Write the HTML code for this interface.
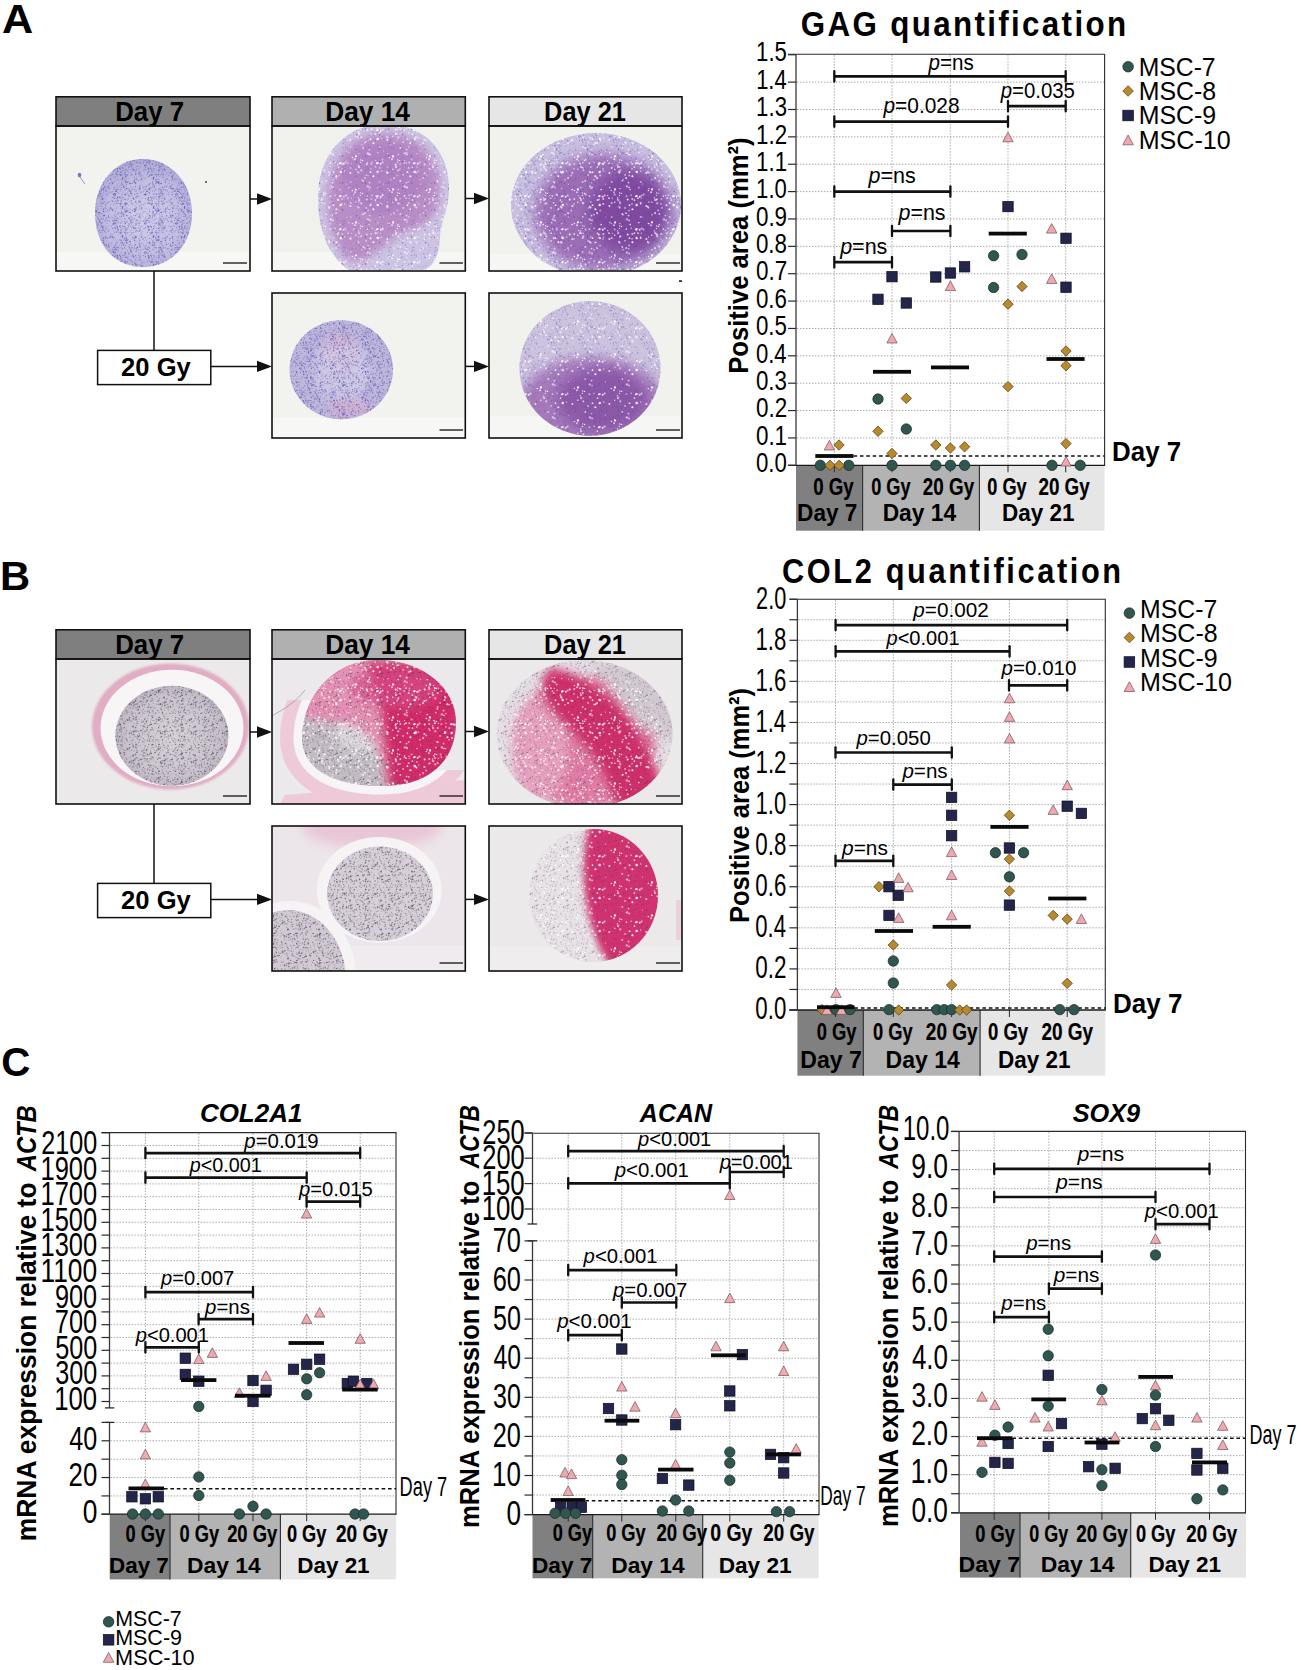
<!DOCTYPE html>
<html><head><meta charset="utf-8"><title>Figure</title>
<style>html,body{margin:0;padding:0;background:#fff;} body{width:1301px;height:1670px;overflow:hidden;font-family:"Liberation Sans",sans-serif;} svg{display:block;}</style>
</head><body>
<svg width="1301" height="1670" viewBox="0 0 1301 1670" font-family="'Liberation Sans', sans-serif">
<rect width="1301" height="1670" fill="#fff"/>
<defs><pattern id="pblue" width="31" height="29" patternUnits="userSpaceOnUse"><g fill="#4a45a0"><circle cx="4.2" cy="24.6" r="0.71" fill-opacity="0.34"/><circle cx="15.4" cy="13.0" r="0.66" fill-opacity="0.63"/><circle cx="2.9" cy="0.8" r="0.73" fill-opacity="0.44"/><circle cx="23.6" cy="0.1" r="0.58" fill-opacity="0.60"/><circle cx="23.6" cy="29.1" r="0.58" fill-opacity="0.60"/><circle cx="7.1" cy="27.4" r="0.76" fill-opacity="0.22"/><circle cx="0.8" cy="15.7" r="0.78" fill-opacity="0.41"/><circle cx="6.7" cy="12.2" r="0.41" fill-opacity="0.32"/><circle cx="13.6" cy="14.4" r="0.49" fill-opacity="0.33"/><circle cx="6.8" cy="13.3" r="0.52" fill-opacity="0.21"/><circle cx="26.0" cy="16.1" r="0.66" fill-opacity="0.30"/><circle cx="-0.2" cy="24.9" r="0.45" fill-opacity="0.38"/><circle cx="30.8" cy="24.9" r="0.45" fill-opacity="0.38"/><circle cx="22.4" cy="20.6" r="0.77" fill-opacity="0.43"/><circle cx="25.7" cy="19.4" r="0.52" fill-opacity="0.52"/><circle cx="27.4" cy="24.5" r="0.60" fill-opacity="0.52"/><circle cx="1.1" cy="7.0" r="0.72" fill-opacity="0.43"/><circle cx="5.4" cy="15.9" r="0.68" fill-opacity="0.57"/><circle cx="11.6" cy="12.7" r="0.60" fill-opacity="0.63"/><circle cx="16.1" cy="11.4" r="0.60" fill-opacity="0.22"/><circle cx="1.3" cy="20.4" r="0.79" fill-opacity="0.53"/><circle cx="12.2" cy="4.9" r="0.60" fill-opacity="0.74"/><circle cx="23.9" cy="15.6" r="0.74" fill-opacity="0.33"/><circle cx="15.9" cy="27.6" r="0.63" fill-opacity="0.45"/><circle cx="8.3" cy="15.9" r="0.78" fill-opacity="0.20"/><circle cx="24.3" cy="23.8" r="0.75" fill-opacity="0.61"/><circle cx="25.1" cy="15.0" r="0.62" fill-opacity="0.43"/><circle cx="1.7" cy="25.2" r="0.63" fill-opacity="0.31"/><circle cx="15.6" cy="14.1" r="0.54" fill-opacity="0.39"/><circle cx="16.7" cy="18.1" r="0.64" fill-opacity="0.45"/><circle cx="0.9" cy="6.7" r="0.47" fill-opacity="0.52"/><circle cx="26.7" cy="23.2" r="0.72" fill-opacity="0.65"/><circle cx="7.9" cy="24.4" r="0.67" fill-opacity="0.25"/><circle cx="0.5" cy="0.4" r="0.70" fill-opacity="0.34"/><circle cx="0.5" cy="29.4" r="0.70" fill-opacity="0.34"/><circle cx="31.5" cy="0.4" r="0.70" fill-opacity="0.34"/><circle cx="31.5" cy="29.4" r="0.70" fill-opacity="0.34"/><circle cx="3.4" cy="18.1" r="0.54" fill-opacity="0.24"/><circle cx="4.9" cy="15.3" r="0.47" fill-opacity="0.35"/><circle cx="22.1" cy="13.2" r="0.53" fill-opacity="0.46"/><circle cx="0.7" cy="11.2" r="0.57" fill-opacity="0.30"/><circle cx="3.4" cy="26.1" r="0.60" fill-opacity="0.32"/><circle cx="18.8" cy="23.7" r="0.41" fill-opacity="0.21"/><circle cx="4.5" cy="20.8" r="0.46" fill-opacity="0.59"/><circle cx="21.0" cy="15.8" r="0.49" fill-opacity="0.74"/><circle cx="24.7" cy="15.0" r="0.49" fill-opacity="0.56"/><circle cx="12.2" cy="16.7" r="0.53" fill-opacity="0.55"/><circle cx="1.8" cy="8.7" r="0.79" fill-opacity="0.68"/><circle cx="9.5" cy="24.9" r="0.52" fill-opacity="0.72"/><circle cx="23.1" cy="12.1" r="0.50" fill-opacity="0.20"/><circle cx="27.2" cy="1.1" r="0.73" fill-opacity="0.73"/><circle cx="17.7" cy="5.0" r="0.75" fill-opacity="0.74"/><circle cx="21.8" cy="14.8" r="0.55" fill-opacity="0.39"/><circle cx="6.4" cy="19.6" r="0.57" fill-opacity="0.31"/><circle cx="3.2" cy="19.3" r="0.52" fill-opacity="0.47"/><circle cx="10.1" cy="25.3" r="0.76" fill-opacity="0.21"/><circle cx="6.2" cy="9.5" r="0.79" fill-opacity="0.63"/><circle cx="10.5" cy="6.2" r="0.67" fill-opacity="0.66"/><circle cx="28.9" cy="10.0" r="0.75" fill-opacity="0.58"/><circle cx="15.0" cy="-0.4" r="0.49" fill-opacity="0.60"/><circle cx="15.0" cy="28.6" r="0.49" fill-opacity="0.60"/><circle cx="2.6" cy="4.9" r="0.76" fill-opacity="0.32"/><circle cx="23.5" cy="17.4" r="0.74" fill-opacity="0.40"/><circle cx="10.5" cy="8.4" r="0.75" fill-opacity="0.53"/><circle cx="29.6" cy="25.7" r="0.45" fill-opacity="0.50"/><circle cx="3.2" cy="1.1" r="0.43" fill-opacity="0.68"/><circle cx="24.4" cy="24.0" r="0.54" fill-opacity="0.54"/><circle cx="24.2" cy="11.0" r="0.63" fill-opacity="0.32"/><circle cx="2.5" cy="7.7" r="0.76" fill-opacity="0.51"/><circle cx="28.7" cy="13.3" r="0.51" fill-opacity="0.63"/><circle cx="25.7" cy="0.4" r="0.67" fill-opacity="0.25"/><circle cx="25.7" cy="29.4" r="0.67" fill-opacity="0.25"/><circle cx="3.6" cy="25.7" r="0.42" fill-opacity="0.33"/><circle cx="-0.4" cy="12.2" r="0.45" fill-opacity="0.29"/><circle cx="30.6" cy="12.2" r="0.45" fill-opacity="0.29"/><circle cx="7.5" cy="21.6" r="0.44" fill-opacity="0.70"/><circle cx="11.7" cy="28.1" r="0.76" fill-opacity="0.36"/><circle cx="7.9" cy="13.8" r="0.44" fill-opacity="0.56"/><circle cx="1.2" cy="0.3" r="0.79" fill-opacity="0.36"/><circle cx="1.2" cy="29.3" r="0.79" fill-opacity="0.36"/><circle cx="18.5" cy="13.0" r="0.53" fill-opacity="0.23"/><circle cx="28.3" cy="28.1" r="0.79" fill-opacity="0.26"/><circle cx="6.7" cy="17.9" r="0.79" fill-opacity="0.50"/><circle cx="21.3" cy="19.2" r="0.50" fill-opacity="0.50"/><circle cx="9.5" cy="7.1" r="0.43" fill-opacity="0.35"/><circle cx="-0.5" cy="13.0" r="0.66" fill-opacity="0.55"/><circle cx="30.5" cy="13.0" r="0.66" fill-opacity="0.55"/><circle cx="29.2" cy="11.3" r="0.52" fill-opacity="0.38"/><circle cx="9.8" cy="24.6" r="0.76" fill-opacity="0.37"/><circle cx="10.4" cy="15.8" r="0.63" fill-opacity="0.53"/><circle cx="7.6" cy="0.6" r="0.50" fill-opacity="0.24"/><circle cx="17.1" cy="2.1" r="0.43" fill-opacity="0.55"/><circle cx="9.0" cy="23.0" r="0.60" fill-opacity="0.67"/><circle cx="4.8" cy="14.5" r="0.72" fill-opacity="0.24"/><circle cx="29.4" cy="5.0" r="0.71" fill-opacity="0.74"/><circle cx="25.5" cy="9.3" r="0.44" fill-opacity="0.48"/><circle cx="28.5" cy="8.5" r="0.76" fill-opacity="0.28"/><circle cx="28.2" cy="0.9" r="0.53" fill-opacity="0.70"/><circle cx="24.9" cy="26.3" r="0.74" fill-opacity="0.61"/><circle cx="21.4" cy="5.2" r="0.57" fill-opacity="0.29"/><circle cx="22.2" cy="19.4" r="0.50" fill-opacity="0.24"/><circle cx="29.9" cy="23.4" r="0.62" fill-opacity="0.50"/><circle cx="26.4" cy="13.1" r="0.56" fill-opacity="0.39"/><circle cx="8.0" cy="0.7" r="0.66" fill-opacity="0.43"/><circle cx="17.7" cy="1.8" r="0.54" fill-opacity="0.28"/><circle cx="3.9" cy="7.5" r="0.73" fill-opacity="0.42"/><circle cx="12.4" cy="17.8" r="0.49" fill-opacity="0.20"/><circle cx="16.4" cy="14.5" r="0.66" fill-opacity="0.44"/><circle cx="21.3" cy="21.2" r="0.50" fill-opacity="0.47"/><circle cx="14.8" cy="6.5" r="0.56" fill-opacity="0.51"/><circle cx="28.1" cy="26.6" r="0.51" fill-opacity="0.56"/><circle cx="1.5" cy="2.1" r="0.60" fill-opacity="0.68"/><circle cx="4.9" cy="22.2" r="0.75" fill-opacity="0.37"/><circle cx="21.5" cy="24.6" r="0.55" fill-opacity="0.59"/><circle cx="22.8" cy="17.2" r="0.74" fill-opacity="0.69"/><circle cx="29.8" cy="16.6" r="0.47" fill-opacity="0.34"/><circle cx="6.7" cy="16.5" r="0.70" fill-opacity="0.23"/><circle cx="21.1" cy="20.8" r="0.54" fill-opacity="0.48"/><circle cx="5.1" cy="21.2" r="0.42" fill-opacity="0.74"/><circle cx="25.0" cy="18.2" r="0.51" fill-opacity="0.70"/><circle cx="29.7" cy="4.0" r="0.71" fill-opacity="0.66"/><circle cx="20.5" cy="20.3" r="0.58" fill-opacity="0.71"/><circle cx="30.1" cy="11.1" r="0.72" fill-opacity="0.44"/><circle cx="5.1" cy="9.4" r="0.45" fill-opacity="0.70"/><circle cx="29.7" cy="3.5" r="0.64" fill-opacity="0.42"/><circle cx="3.7" cy="8.6" r="0.50" fill-opacity="0.61"/><circle cx="0.1" cy="5.5" r="0.58" fill-opacity="0.21"/><circle cx="31.1" cy="5.5" r="0.58" fill-opacity="0.21"/><circle cx="19.5" cy="17.6" r="0.73" fill-opacity="0.31"/><circle cx="8.8" cy="15.7" r="0.51" fill-opacity="0.52"/><circle cx="7.8" cy="19.8" r="0.72" fill-opacity="0.64"/></g></pattern><pattern id="pblue2" width="23" height="27" patternUnits="userSpaceOnUse"><g fill="#5a55b0"><circle cx="22.0" cy="25.6" r="0.42" fill-opacity="0.24"/><circle cx="19.2" cy="19.9" r="0.67" fill-opacity="0.35"/><circle cx="13.9" cy="16.4" r="0.63" fill-opacity="0.28"/><circle cx="9.9" cy="10.6" r="0.69" fill-opacity="0.70"/><circle cx="21.8" cy="14.7" r="0.58" fill-opacity="0.33"/><circle cx="0.8" cy="0.7" r="0.59" fill-opacity="0.36"/><circle cx="8.7" cy="24.1" r="0.61" fill-opacity="0.48"/><circle cx="5.4" cy="0.6" r="0.53" fill-opacity="0.27"/><circle cx="11.7" cy="-0.0" r="0.67" fill-opacity="0.29"/><circle cx="11.7" cy="27.0" r="0.67" fill-opacity="0.29"/><circle cx="20.6" cy="21.5" r="0.69" fill-opacity="0.65"/><circle cx="17.5" cy="21.3" r="0.54" fill-opacity="0.69"/><circle cx="22.1" cy="4.4" r="0.70" fill-opacity="0.56"/><circle cx="10.6" cy="14.3" r="0.60" fill-opacity="0.66"/><circle cx="11.5" cy="22.5" r="0.54" fill-opacity="0.64"/><circle cx="20.7" cy="12.4" r="0.63" fill-opacity="0.66"/><circle cx="16.6" cy="13.1" r="0.49" fill-opacity="0.36"/><circle cx="16.1" cy="4.5" r="0.76" fill-opacity="0.33"/><circle cx="21.0" cy="8.4" r="0.78" fill-opacity="0.55"/><circle cx="11.6" cy="14.0" r="0.66" fill-opacity="0.49"/><circle cx="7.2" cy="5.6" r="0.60" fill-opacity="0.67"/><circle cx="14.3" cy="2.0" r="0.73" fill-opacity="0.56"/><circle cx="20.9" cy="5.2" r="0.70" fill-opacity="0.23"/><circle cx="15.0" cy="7.4" r="0.49" fill-opacity="0.64"/><circle cx="2.4" cy="14.1" r="0.74" fill-opacity="0.32"/><circle cx="4.8" cy="23.8" r="0.57" fill-opacity="0.56"/><circle cx="0.7" cy="9.8" r="0.47" fill-opacity="0.54"/><circle cx="1.9" cy="25.8" r="0.41" fill-opacity="0.56"/><circle cx="0.5" cy="6.9" r="0.73" fill-opacity="0.28"/><circle cx="23.5" cy="6.9" r="0.73" fill-opacity="0.28"/><circle cx="4.2" cy="18.7" r="0.55" fill-opacity="0.22"/><circle cx="-0.2" cy="4.1" r="0.41" fill-opacity="0.37"/><circle cx="22.8" cy="4.1" r="0.41" fill-opacity="0.37"/><circle cx="14.2" cy="20.0" r="0.45" fill-opacity="0.37"/><circle cx="0.7" cy="12.1" r="0.71" fill-opacity="0.57"/><circle cx="20.7" cy="20.4" r="0.74" fill-opacity="0.55"/><circle cx="10.9" cy="6.1" r="0.66" fill-opacity="0.36"/><circle cx="2.3" cy="12.1" r="0.75" fill-opacity="0.26"/><circle cx="13.5" cy="10.6" r="0.61" fill-opacity="0.27"/><circle cx="22.1" cy="7.0" r="0.64" fill-opacity="0.41"/><circle cx="0.4" cy="15.1" r="0.46" fill-opacity="0.23"/><circle cx="23.4" cy="15.1" r="0.46" fill-opacity="0.23"/><circle cx="0.8" cy="4.4" r="0.44" fill-opacity="0.52"/><circle cx="11.7" cy="-0.4" r="0.77" fill-opacity="0.70"/><circle cx="11.7" cy="26.6" r="0.77" fill-opacity="0.70"/></g></pattern><pattern id="pblue3" width="19" height="17" patternUnits="userSpaceOnUse"><g fill="#5d58b0"><circle cx="6.2" cy="2.6" r="0.58" fill-opacity="0.23"/><circle cx="10.2" cy="6.2" r="0.37" fill-opacity="0.40"/><circle cx="0.7" cy="7.4" r="0.37" fill-opacity="0.24"/><circle cx="8.1" cy="14.1" r="0.39" fill-opacity="0.29"/><circle cx="11.9" cy="16.1" r="0.55" fill-opacity="0.36"/><circle cx="-0.5" cy="0.8" r="0.65" fill-opacity="0.32"/><circle cx="18.5" cy="0.8" r="0.65" fill-opacity="0.32"/><circle cx="2.7" cy="2.0" r="0.46" fill-opacity="0.53"/><circle cx="3.4" cy="9.9" r="0.57" fill-opacity="0.35"/><circle cx="10.4" cy="1.1" r="0.37" fill-opacity="0.28"/><circle cx="12.9" cy="7.3" r="0.46" fill-opacity="0.43"/><circle cx="8.6" cy="5.1" r="0.63" fill-opacity="0.48"/><circle cx="4.6" cy="9.8" r="0.53" fill-opacity="0.55"/><circle cx="13.9" cy="4.9" r="0.69" fill-opacity="0.25"/><circle cx="7.9" cy="12.9" r="0.40" fill-opacity="0.40"/><circle cx="0.7" cy="11.4" r="0.62" fill-opacity="0.43"/><circle cx="16.6" cy="5.3" r="0.59" fill-opacity="0.44"/><circle cx="11.0" cy="7.8" r="0.64" fill-opacity="0.58"/><circle cx="9.0" cy="11.3" r="0.37" fill-opacity="0.48"/><circle cx="12.3" cy="-0.1" r="0.64" fill-opacity="0.31"/><circle cx="12.3" cy="16.9" r="0.64" fill-opacity="0.31"/><circle cx="7.3" cy="11.4" r="0.36" fill-opacity="0.38"/><circle cx="3.2" cy="2.0" r="0.37" fill-opacity="0.51"/><circle cx="2.5" cy="4.2" r="0.49" fill-opacity="0.55"/><circle cx="1.5" cy="7.6" r="0.54" fill-opacity="0.55"/><circle cx="15.6" cy="14.7" r="0.45" fill-opacity="0.37"/><circle cx="6.8" cy="15.0" r="0.69" fill-opacity="0.26"/><circle cx="3.3" cy="3.9" r="0.43" fill-opacity="0.39"/><circle cx="11.2" cy="4.5" r="0.35" fill-opacity="0.37"/><circle cx="7.0" cy="9.6" r="0.68" fill-opacity="0.48"/><circle cx="9.8" cy="10.5" r="0.59" fill-opacity="0.22"/><circle cx="17.1" cy="13.3" r="0.66" fill-opacity="0.52"/><circle cx="7.5" cy="6.8" r="0.39" fill-opacity="0.45"/><circle cx="1.2" cy="1.1" r="0.42" fill-opacity="0.26"/><circle cx="6.5" cy="0.9" r="0.35" fill-opacity="0.26"/><circle cx="1.9" cy="6.2" r="0.36" fill-opacity="0.55"/><circle cx="11.7" cy="2.5" r="0.44" fill-opacity="0.34"/><circle cx="6.9" cy="2.1" r="0.65" fill-opacity="0.60"/><circle cx="8.9" cy="8.2" r="0.38" fill-opacity="0.24"/><circle cx="6.5" cy="4.5" r="0.64" fill-opacity="0.26"/><circle cx="0.4" cy="16.2" r="0.53" fill-opacity="0.26"/><circle cx="19.4" cy="16.2" r="0.53" fill-opacity="0.26"/><circle cx="10.3" cy="0.5" r="0.53" fill-opacity="0.59"/><circle cx="10.3" cy="17.5" r="0.53" fill-opacity="0.59"/></g></pattern><pattern id="pgrey" width="31" height="29" patternUnits="userSpaceOnUse"><g fill="#3e3650"><circle cx="7.4" cy="15.8" r="0.55" fill-opacity="0.50"/><circle cx="19.4" cy="1.9" r="0.41" fill-opacity="0.62"/><circle cx="8.0" cy="6.8" r="0.80" fill-opacity="0.44"/><circle cx="25.9" cy="13.8" r="0.66" fill-opacity="0.28"/><circle cx="19.7" cy="25.2" r="0.61" fill-opacity="0.57"/><circle cx="20.8" cy="1.9" r="0.70" fill-opacity="0.50"/><circle cx="9.3" cy="0.9" r="0.75" fill-opacity="0.44"/><circle cx="22.3" cy="25.5" r="0.69" fill-opacity="0.66"/><circle cx="12.2" cy="23.2" r="0.58" fill-opacity="0.67"/><circle cx="27.2" cy="2.8" r="0.45" fill-opacity="0.31"/><circle cx="29.9" cy="12.6" r="0.65" fill-opacity="0.35"/><circle cx="15.7" cy="11.2" r="0.54" fill-opacity="0.49"/><circle cx="18.1" cy="26.2" r="0.67" fill-opacity="0.66"/><circle cx="26.5" cy="-0.3" r="0.67" fill-opacity="0.28"/><circle cx="26.5" cy="28.7" r="0.67" fill-opacity="0.28"/><circle cx="26.7" cy="28.0" r="0.76" fill-opacity="0.48"/><circle cx="22.1" cy="6.1" r="0.73" fill-opacity="0.49"/><circle cx="8.8" cy="1.8" r="0.74" fill-opacity="0.69"/><circle cx="2.7" cy="23.2" r="0.56" fill-opacity="0.28"/><circle cx="9.1" cy="22.3" r="0.75" fill-opacity="0.22"/><circle cx="19.1" cy="1.3" r="0.69" fill-opacity="0.37"/><circle cx="27.3" cy="-0.6" r="0.60" fill-opacity="0.70"/><circle cx="27.3" cy="28.4" r="0.60" fill-opacity="0.70"/><circle cx="9.6" cy="2.2" r="0.64" fill-opacity="0.22"/><circle cx="6.1" cy="11.8" r="0.64" fill-opacity="0.28"/><circle cx="1.3" cy="25.2" r="0.53" fill-opacity="0.68"/><circle cx="27.8" cy="11.0" r="0.58" fill-opacity="0.46"/><circle cx="20.0" cy="17.3" r="0.62" fill-opacity="0.51"/><circle cx="29.2" cy="14.7" r="0.57" fill-opacity="0.56"/><circle cx="7.4" cy="8.7" r="0.79" fill-opacity="0.46"/><circle cx="17.0" cy="0.3" r="0.57" fill-opacity="0.49"/><circle cx="17.0" cy="29.3" r="0.57" fill-opacity="0.49"/><circle cx="0.6" cy="17.9" r="0.65" fill-opacity="0.23"/><circle cx="31.6" cy="17.9" r="0.65" fill-opacity="0.23"/><circle cx="19.4" cy="13.5" r="0.67" fill-opacity="0.38"/><circle cx="21.9" cy="21.4" r="0.41" fill-opacity="0.23"/><circle cx="21.0" cy="27.9" r="0.50" fill-opacity="0.43"/><circle cx="18.4" cy="9.3" r="0.55" fill-opacity="0.36"/><circle cx="11.4" cy="17.3" r="0.52" fill-opacity="0.39"/><circle cx="23.9" cy="0.8" r="0.63" fill-opacity="0.57"/><circle cx="9.6" cy="6.5" r="0.72" fill-opacity="0.32"/><circle cx="5.8" cy="12.6" r="0.68" fill-opacity="0.25"/><circle cx="10.0" cy="9.7" r="0.73" fill-opacity="0.42"/><circle cx="26.5" cy="4.9" r="0.53" fill-opacity="0.53"/><circle cx="27.4" cy="13.1" r="0.49" fill-opacity="0.26"/><circle cx="16.4" cy="5.5" r="0.72" fill-opacity="0.62"/><circle cx="5.7" cy="8.1" r="0.72" fill-opacity="0.52"/><circle cx="25.0" cy="10.0" r="0.45" fill-opacity="0.35"/><circle cx="24.6" cy="7.9" r="0.54" fill-opacity="0.41"/><circle cx="13.0" cy="11.9" r="0.77" fill-opacity="0.28"/><circle cx="0.1" cy="27.4" r="0.75" fill-opacity="0.69"/><circle cx="31.1" cy="27.4" r="0.75" fill-opacity="0.69"/><circle cx="13.5" cy="27.6" r="0.77" fill-opacity="0.31"/><circle cx="23.1" cy="24.3" r="0.67" fill-opacity="0.46"/><circle cx="9.0" cy="9.9" r="0.49" fill-opacity="0.23"/><circle cx="18.2" cy="8.3" r="0.72" fill-opacity="0.22"/><circle cx="28.0" cy="20.1" r="0.77" fill-opacity="0.65"/><circle cx="27.9" cy="16.7" r="0.41" fill-opacity="0.57"/><circle cx="5.3" cy="8.7" r="0.67" fill-opacity="0.46"/><circle cx="12.8" cy="27.2" r="0.64" fill-opacity="0.37"/><circle cx="7.8" cy="25.0" r="0.59" fill-opacity="0.59"/><circle cx="10.9" cy="5.7" r="0.61" fill-opacity="0.61"/><circle cx="5.3" cy="23.0" r="0.77" fill-opacity="0.60"/><circle cx="25.5" cy="0.2" r="0.65" fill-opacity="0.63"/><circle cx="25.5" cy="29.2" r="0.65" fill-opacity="0.63"/><circle cx="1.5" cy="7.9" r="0.51" fill-opacity="0.46"/><circle cx="13.1" cy="13.7" r="0.71" fill-opacity="0.20"/><circle cx="1.7" cy="3.7" r="0.45" fill-opacity="0.23"/><circle cx="30.2" cy="24.8" r="0.43" fill-opacity="0.45"/><circle cx="9.8" cy="9.1" r="0.54" fill-opacity="0.52"/><circle cx="18.2" cy="10.5" r="0.48" fill-opacity="0.36"/><circle cx="3.8" cy="16.1" r="0.69" fill-opacity="0.39"/><circle cx="2.5" cy="5.2" r="0.55" fill-opacity="0.50"/><circle cx="24.3" cy="11.0" r="0.72" fill-opacity="0.51"/><circle cx="13.4" cy="10.8" r="0.60" fill-opacity="0.55"/><circle cx="13.0" cy="20.1" r="0.58" fill-opacity="0.32"/><circle cx="16.6" cy="20.2" r="0.43" fill-opacity="0.41"/><circle cx="13.2" cy="25.5" r="0.77" fill-opacity="0.39"/><circle cx="27.8" cy="22.9" r="0.50" fill-opacity="0.43"/><circle cx="3.8" cy="23.6" r="0.66" fill-opacity="0.64"/><circle cx="24.6" cy="19.4" r="0.69" fill-opacity="0.48"/><circle cx="3.2" cy="17.0" r="0.40" fill-opacity="0.27"/><circle cx="24.0" cy="1.3" r="0.44" fill-opacity="0.25"/><circle cx="27.3" cy="5.2" r="0.41" fill-opacity="0.62"/><circle cx="3.8" cy="24.5" r="0.67" fill-opacity="0.62"/><circle cx="29.5" cy="16.8" r="0.72" fill-opacity="0.22"/><circle cx="23.8" cy="14.8" r="0.69" fill-opacity="0.25"/><circle cx="23.2" cy="27.1" r="0.42" fill-opacity="0.36"/><circle cx="17.5" cy="24.0" r="0.50" fill-opacity="0.29"/><circle cx="7.7" cy="17.9" r="0.70" fill-opacity="0.40"/><circle cx="11.4" cy="11.5" r="0.54" fill-opacity="0.41"/><circle cx="2.6" cy="14.5" r="0.79" fill-opacity="0.41"/><circle cx="23.2" cy="4.7" r="0.68" fill-opacity="0.58"/><circle cx="20.9" cy="15.0" r="0.59" fill-opacity="0.52"/><circle cx="27.8" cy="4.3" r="0.44" fill-opacity="0.57"/><circle cx="28.4" cy="15.0" r="0.58" fill-opacity="0.56"/><circle cx="5.8" cy="7.8" r="0.48" fill-opacity="0.49"/><circle cx="9.8" cy="6.7" r="0.68" fill-opacity="0.68"/><circle cx="9.2" cy="20.5" r="0.57" fill-opacity="0.63"/><circle cx="18.1" cy="7.7" r="0.49" fill-opacity="0.21"/><circle cx="14.9" cy="11.1" r="0.47" fill-opacity="0.38"/><circle cx="10.0" cy="22.5" r="0.46" fill-opacity="0.70"/><circle cx="14.9" cy="17.4" r="0.59" fill-opacity="0.62"/><circle cx="25.5" cy="16.2" r="0.59" fill-opacity="0.56"/><circle cx="26.6" cy="11.6" r="0.69" fill-opacity="0.68"/><circle cx="14.5" cy="6.7" r="0.49" fill-opacity="0.56"/><circle cx="20.9" cy="27.8" r="0.74" fill-opacity="0.32"/><circle cx="5.9" cy="7.5" r="0.47" fill-opacity="0.55"/><circle cx="26.6" cy="26.1" r="0.50" fill-opacity="0.63"/><circle cx="9.7" cy="12.3" r="0.69" fill-opacity="0.24"/><circle cx="2.9" cy="24.2" r="0.52" fill-opacity="0.38"/><circle cx="18.0" cy="19.6" r="0.40" fill-opacity="0.37"/><circle cx="13.5" cy="14.1" r="0.48" fill-opacity="0.49"/><circle cx="29.6" cy="11.3" r="0.62" fill-opacity="0.26"/><circle cx="8.5" cy="19.3" r="0.45" fill-opacity="0.64"/><circle cx="28.2" cy="2.8" r="0.78" fill-opacity="0.39"/><circle cx="23.9" cy="22.0" r="0.52" fill-opacity="0.54"/><circle cx="20.3" cy="23.4" r="0.51" fill-opacity="0.58"/><circle cx="29.8" cy="19.5" r="0.61" fill-opacity="0.26"/><circle cx="15.3" cy="10.2" r="0.69" fill-opacity="0.54"/><circle cx="17.6" cy="5.3" r="0.66" fill-opacity="0.52"/><circle cx="5.6" cy="25.8" r="0.66" fill-opacity="0.26"/><circle cx="28.9" cy="4.1" r="0.53" fill-opacity="0.56"/><circle cx="18.5" cy="16.1" r="0.66" fill-opacity="0.43"/><circle cx="9.7" cy="5.1" r="0.43" fill-opacity="0.56"/><circle cx="23.4" cy="15.8" r="0.70" fill-opacity="0.38"/></g></pattern><pattern id="pgrey2" width="23" height="27" patternUnits="userSpaceOnUse"><g fill="#4a4260"><circle cx="5.4" cy="2.8" r="0.56" fill-opacity="0.28"/><circle cx="1.5" cy="10.8" r="0.77" fill-opacity="0.60"/><circle cx="17.6" cy="6.0" r="0.61" fill-opacity="0.34"/><circle cx="4.0" cy="2.9" r="0.49" fill-opacity="0.66"/><circle cx="19.1" cy="21.8" r="0.72" fill-opacity="0.30"/><circle cx="7.1" cy="16.9" r="0.69" fill-opacity="0.63"/><circle cx="20.2" cy="2.3" r="0.64" fill-opacity="0.54"/><circle cx="11.6" cy="4.8" r="0.59" fill-opacity="0.24"/><circle cx="21.5" cy="23.4" r="0.62" fill-opacity="0.35"/><circle cx="20.9" cy="15.5" r="0.75" fill-opacity="0.62"/><circle cx="11.7" cy="11.2" r="0.64" fill-opacity="0.42"/><circle cx="3.7" cy="8.2" r="0.73" fill-opacity="0.22"/><circle cx="1.1" cy="16.9" r="0.51" fill-opacity="0.47"/><circle cx="10.8" cy="9.3" r="0.80" fill-opacity="0.30"/><circle cx="9.5" cy="5.5" r="0.65" fill-opacity="0.34"/><circle cx="8.2" cy="20.2" r="0.53" fill-opacity="0.48"/><circle cx="20.8" cy="2.7" r="0.42" fill-opacity="0.31"/><circle cx="17.6" cy="16.6" r="0.49" fill-opacity="0.37"/><circle cx="4.1" cy="12.4" r="0.42" fill-opacity="0.55"/><circle cx="20.6" cy="25.8" r="0.69" fill-opacity="0.68"/><circle cx="0.4" cy="7.8" r="0.79" fill-opacity="0.59"/><circle cx="23.4" cy="7.8" r="0.79" fill-opacity="0.59"/><circle cx="9.4" cy="25.5" r="0.65" fill-opacity="0.61"/><circle cx="6.7" cy="5.2" r="0.58" fill-opacity="0.27"/><circle cx="8.8" cy="26.0" r="0.53" fill-opacity="0.20"/><circle cx="1.0" cy="4.6" r="0.71" fill-opacity="0.38"/><circle cx="6.7" cy="2.6" r="0.79" fill-opacity="0.41"/><circle cx="4.8" cy="1.6" r="0.42" fill-opacity="0.28"/><circle cx="15.6" cy="4.0" r="0.42" fill-opacity="0.45"/><circle cx="5.7" cy="-0.1" r="0.45" fill-opacity="0.46"/><circle cx="5.7" cy="26.9" r="0.45" fill-opacity="0.46"/><circle cx="17.8" cy="11.1" r="0.80" fill-opacity="0.44"/><circle cx="5.6" cy="11.1" r="0.41" fill-opacity="0.41"/><circle cx="5.7" cy="24.0" r="0.73" fill-opacity="0.45"/><circle cx="0.7" cy="6.9" r="0.50" fill-opacity="0.30"/><circle cx="5.3" cy="23.5" r="0.46" fill-opacity="0.23"/><circle cx="21.3" cy="15.3" r="0.80" fill-opacity="0.40"/><circle cx="20.7" cy="17.7" r="0.72" fill-opacity="0.57"/><circle cx="11.4" cy="2.5" r="0.48" fill-opacity="0.64"/><circle cx="20.7" cy="25.0" r="0.53" fill-opacity="0.53"/><circle cx="18.4" cy="17.3" r="0.73" fill-opacity="0.46"/><circle cx="15.1" cy="18.5" r="0.51" fill-opacity="0.66"/><circle cx="22.0" cy="2.0" r="0.79" fill-opacity="0.68"/><circle cx="15.4" cy="1.2" r="0.76" fill-opacity="0.26"/><circle cx="22.3" cy="18.0" r="0.42" fill-opacity="0.28"/><circle cx="14.6" cy="15.4" r="0.70" fill-opacity="0.66"/><circle cx="5.0" cy="0.1" r="0.77" fill-opacity="0.21"/><circle cx="5.0" cy="27.1" r="0.77" fill-opacity="0.21"/></g></pattern><pattern id="pwhite" width="37" height="33" patternUnits="userSpaceOnUse"><g fill="#ffffff"><circle cx="23.0" cy="24.5" r="1.14" fill-opacity="0.93"/><circle cx="27.4" cy="30.4" r="0.72" fill-opacity="0.74"/><circle cx="34.9" cy="21.4" r="1.20" fill-opacity="0.60"/><circle cx="17.4" cy="8.1" r="1.00" fill-opacity="0.78"/><circle cx="0.5" cy="7.2" r="0.85" fill-opacity="0.92"/><circle cx="37.5" cy="7.2" r="0.85" fill-opacity="0.92"/><circle cx="28.3" cy="5.3" r="1.14" fill-opacity="0.61"/><circle cx="22.8" cy="4.2" r="0.70" fill-opacity="0.90"/><circle cx="7.7" cy="7.1" r="1.24" fill-opacity="0.90"/><circle cx="10.7" cy="31.7" r="1.00" fill-opacity="0.82"/><circle cx="7.6" cy="31.1" r="1.08" fill-opacity="0.94"/><circle cx="33.1" cy="9.9" r="0.90" fill-opacity="0.62"/><circle cx="5.4" cy="2.1" r="0.87" fill-opacity="0.79"/><circle cx="0.1" cy="22.4" r="0.89" fill-opacity="0.67"/><circle cx="37.1" cy="22.4" r="0.89" fill-opacity="0.67"/><circle cx="30.3" cy="15.9" r="0.87" fill-opacity="0.74"/><circle cx="26.1" cy="1.9" r="1.24" fill-opacity="0.56"/><circle cx="27.7" cy="27.9" r="0.71" fill-opacity="0.87"/><circle cx="13.5" cy="19.1" r="0.70" fill-opacity="0.57"/><circle cx="6.7" cy="31.5" r="0.81" fill-opacity="0.85"/><circle cx="34.4" cy="31.1" r="0.89" fill-opacity="0.69"/><circle cx="19.4" cy="25.6" r="0.76" fill-opacity="0.85"/><circle cx="29.5" cy="28.4" r="0.72" fill-opacity="0.93"/><circle cx="3.4" cy="11.2" r="1.04" fill-opacity="0.92"/><circle cx="12.6" cy="30.5" r="1.00" fill-opacity="0.67"/><circle cx="11.7" cy="5.9" r="0.74" fill-opacity="0.61"/><circle cx="25.5" cy="-0.1" r="0.79" fill-opacity="0.57"/><circle cx="25.5" cy="32.9" r="0.79" fill-opacity="0.57"/><circle cx="-0.5" cy="17.6" r="0.92" fill-opacity="0.64"/><circle cx="36.5" cy="17.6" r="0.92" fill-opacity="0.64"/><circle cx="22.0" cy="27.3" r="0.95" fill-opacity="0.72"/><circle cx="2.1" cy="30.2" r="0.72" fill-opacity="0.75"/></g></pattern><pattern id="pwhite2" width="29" height="35" patternUnits="userSpaceOnUse"><g fill="#ffffff"><circle cx="23.0" cy="28.8" r="0.84" fill-opacity="0.60"/><circle cx="0.0" cy="23.2" r="0.84" fill-opacity="0.80"/><circle cx="29.0" cy="23.2" r="0.84" fill-opacity="0.80"/><circle cx="10.8" cy="27.0" r="0.74" fill-opacity="0.82"/><circle cx="21.2" cy="14.5" r="0.87" fill-opacity="0.77"/><circle cx="5.6" cy="19.4" r="1.00" fill-opacity="0.61"/><circle cx="23.3" cy="24.0" r="1.02" fill-opacity="0.63"/><circle cx="2.7" cy="28.0" r="1.00" fill-opacity="0.68"/><circle cx="2.7" cy="6.9" r="0.92" fill-opacity="0.62"/><circle cx="27.6" cy="20.6" r="0.70" fill-opacity="0.76"/><circle cx="10.5" cy="32.6" r="1.05" fill-opacity="0.71"/><circle cx="18.7" cy="24.4" r="1.00" fill-opacity="0.89"/><circle cx="0.8" cy="12.6" r="0.90" fill-opacity="0.62"/><circle cx="29.8" cy="12.6" r="0.90" fill-opacity="0.62"/><circle cx="17.1" cy="3.1" r="1.04" fill-opacity="0.71"/><circle cx="3.4" cy="23.2" r="0.76" fill-opacity="0.58"/><circle cx="14.0" cy="4.8" r="0.70" fill-opacity="0.85"/><circle cx="20.2" cy="0.4" r="0.99" fill-opacity="0.51"/><circle cx="20.2" cy="35.4" r="0.99" fill-opacity="0.51"/><circle cx="9.7" cy="31.7" r="0.91" fill-opacity="0.62"/><circle cx="10.9" cy="13.6" r="0.66" fill-opacity="0.90"/></g></pattern><clipPath id="c1"><path d="M 143 159 C 170 159 192 182 192 213 C 192 246 170 267 143 267 C 115 267 95 246 95 213 C 95 182 116 159 143 159 Z"/></clipPath><radialGradient id="g2" cx="50%" cy="55%" r="55%"><stop offset="0" stop-color="#cfcce8" stop-opacity="1"/><stop offset="0.6" stop-color="#c2bee2" stop-opacity="1"/><stop offset="1" stop-color="#aba7d6" stop-opacity="1"/></radialGradient><clipPath id="c3"><rect x="56" y="126" width="194" height="145"/></clipPath><clipPath id="c4"><path d="M 385 124 C 425 124 449 152 449 188 C 449 210 441 220 440 238 C 439 258 432 272 410 274 L 355 274 C 332 262 318 235 318 198 C 318 155 345 124 385 124 Z"/></clipPath><filter id="b5" x="-20%" y="-20%" width="140%" height="140%"><feGaussianBlur stdDeviation="4"/></filter><clipPath id="c6"><rect x="272" y="126" width="193" height="144"/></clipPath><clipPath id="c7"><ellipse cx="596" cy="205" rx="85" ry="72" fill="#000" /></clipPath><filter id="b8" x="-20%" y="-20%" width="140%" height="140%"><feGaussianBlur stdDeviation="7"/></filter><clipPath id="c9"><rect x="489" y="126" width="193" height="144"/></clipPath><clipPath id="c10"><ellipse cx="341.3" cy="369.8" rx="51.7" ry="49.5" fill="#000" /></clipPath><clipPath id="c11"><rect x="272" y="293" width="193" height="145"/></clipPath><clipPath id="c12"><ellipse cx="590" cy="368.4" rx="70.6" ry="67.3" fill="#000" /></clipPath><filter id="b13" x="-20%" y="-20%" width="140%" height="140%"><feGaussianBlur stdDeviation="6"/></filter><clipPath id="c14"><rect x="489" y="293" width="193" height="145"/></clipPath><filter id="b15" x="-20%" y="-20%" width="140%" height="140%"><feGaussianBlur stdDeviation="1.2"/></filter><clipPath id="c16"><ellipse cx="171.9" cy="735.7" rx="56.5" ry="50" fill="#000" /></clipPath><radialGradient id="g17" cx="50%" cy="50%" r="52%"><stop offset="0" stop-color="#d6d0d8" stop-opacity="1"/><stop offset="0.7" stop-color="#cbc4cd" stop-opacity="1"/><stop offset="1" stop-color="#b9b0bd" stop-opacity="1"/></radialGradient><clipPath id="c18"><rect x="56" y="659" width="194" height="145"/></clipPath><clipPath id="c19"><path d="M 272 700 L 310 700 L 340 770 L 470 770 L 470 806 L 272 806 Z"/></clipPath><clipPath id="c20"><path d="M 378 660 C 425 660 456 690 456 722 C 456 760 430 786 382 786 C 335 786 302 770 302 738 C 302 700 330 660 378 660 Z"/></clipPath><clipPath id="c21"><rect x="272" y="659" width="193" height="145"/></clipPath><clipPath id="c22"><ellipse cx="584.5" cy="734" rx="88" ry="74" fill="#000" /></clipPath><clipPath id="c23"><ellipse cx="586" cy="738" rx="77" ry="68" fill="#000" /></clipPath><filter id="b24" x="-20%" y="-20%" width="140%" height="140%"><feGaussianBlur stdDeviation="5"/></filter><clipPath id="c25"><rect x="489" y="659" width="193" height="145"/></clipPath><clipPath id="c26"><ellipse cx="380" cy="893.8" rx="52.9" ry="47.2" fill="#000" /></clipPath><clipPath id="c27"><ellipse cx="288" cy="980" rx="58" ry="70" fill="#000" /></clipPath><clipPath id="c28"><rect x="272" y="826" width="193" height="145"/></clipPath><clipPath id="c29"><ellipse cx="593.4" cy="895.5" rx="64.6" ry="66.5" fill="#000" /></clipPath><filter id="b30" x="-20%" y="-20%" width="140%" height="140%"><feGaussianBlur stdDeviation="3.5"/></filter><clipPath id="c31"><rect x="489" y="827" width="193" height="145"/></clipPath></defs>
<g clip-path="url(#c3)"><rect x="56" y="126" width="194" height="145" fill="#f2f2ef"/><rect x="56" y="252" width="194" height="19" fill="#f7f7f5"/><g clip-path="url(#c1)"><rect x="90" y="155" width="110" height="115" fill="url(#g2)"/></g><rect x="90" y="155" width="110" height="115" fill="url(#pblue)" clip-path="url(#c1)" opacity="1"/><rect x="90" y="155" width="110" height="115" fill="url(#pblue2)" clip-path="url(#c1)" opacity="1"/><rect x="90" y="155" width="110" height="115" fill="url(#pblue3)" clip-path="url(#c1)" opacity="1"/><ellipse cx="79.5" cy="175" rx="1.8" ry="2.2" fill="#7a76c0"/><line x1="80" y1="177" x2="85" y2="184" stroke="#9a96d0" stroke-width="1"/><circle cx="206" cy="182" r="0.9" fill="#333"/></g>
<g clip-path="url(#c6)"><rect x="272" y="126" width="193" height="144" fill="#f0f0ed"/><rect x="272" y="252" width="193" height="18" fill="#f6f6f4"/><path d="M 385 124 C 425 124 449 152 449 188 C 449 210 441 220 440 238 C 439 258 432 272 410 274 L 355 274 C 332 262 318 235 318 198 C 318 155 345 124 385 124 Z" fill="#cdc3e2"/><g clip-path="url(#c4)"><g filter="url(#b5)"><path d="M 385 133 C 420 133 440 158 440 190 C 440 215 425 225 405 232 C 385 240 370 262 352 262 C 335 250 328 228 328 200 C 328 162 350 133 385 133 Z" fill="#b98dc6"/><ellipse cx="383" cy="178" rx="40" ry="35" fill="#ae80c0" opacity="0.8"/></g></g><rect x="310" y="120" width="145" height="155" fill="url(#pwhite)" clip-path="url(#c4)" opacity="1"/><rect x="310" y="120" width="145" height="155" fill="url(#pwhite2)" clip-path="url(#c4)" opacity="0.7"/><rect x="310" y="120" width="145" height="155" fill="url(#pblue2)" clip-path="url(#c4)" opacity="0.8"/></g>
<g clip-path="url(#c9)"><rect x="489" y="126" width="193" height="144" fill="#f1f1ee"/><rect x="489" y="254" width="193" height="16" fill="#f6f6f4"/><ellipse cx="596" cy="205" rx="85" ry="72" fill="#c9bfe0" /><g clip-path="url(#c7)"><g filter="url(#b8)"><ellipse cx="603" cy="212" rx="68" ry="58" fill="#9d6db6"/><ellipse cx="630" cy="212" rx="42" ry="42" fill="#814aa0"/></g></g><rect x="505" y="125" width="185" height="155" fill="url(#pwhite)" clip-path="url(#c7)" opacity="1"/><rect x="505" y="125" width="185" height="155" fill="url(#pwhite2)" clip-path="url(#c7)" opacity="1"/><rect x="505" y="125" width="185" height="155" fill="url(#pblue)" clip-path="url(#c7)" opacity="0.7"/></g>
<g clip-path="url(#c11)"><rect x="272" y="293" width="193" height="145" fill="#f2f2ef"/><rect x="272" y="418" width="193" height="20" fill="#f7f7f5"/><ellipse cx="341.3" cy="369.8" rx="51.7" ry="49.5" fill="#bfb8dd" /><g clip-path="url(#c10)"><g filter="url(#b5)"><ellipse cx="340" cy="352" rx="16" ry="20" fill="#d2b5d5"/><ellipse cx="350" cy="408" rx="22" ry="10" fill="#d0b3d3"/><ellipse cx="342" cy="372" rx="30" ry="28" fill="#d8d2ea" opacity="0.6"/></g></g><rect x="285" y="315" width="115" height="110" fill="url(#pblue)" clip-path="url(#c10)" opacity="1"/><rect x="285" y="315" width="115" height="110" fill="url(#pblue2)" clip-path="url(#c10)" opacity="1"/><rect x="285" y="315" width="115" height="110" fill="url(#pblue3)" clip-path="url(#c10)" opacity="1"/></g>
<g clip-path="url(#c14)"><rect x="489" y="293" width="193" height="145" fill="#f1f1ee"/><rect x="489" y="416" width="193" height="22" fill="#f6f6f4"/><ellipse cx="590" cy="368.4" rx="70.6" ry="67.3" fill="#cdc3df" /><g clip-path="url(#c12)"><g filter="url(#b13)"><ellipse cx="592" cy="405" rx="72" ry="48" fill="#a679bb"/><ellipse cx="602" cy="400" rx="45" ry="32" fill="#8d58a8"/></g></g><rect x="515" y="298" width="150" height="142" fill="url(#pwhite)" clip-path="url(#c12)" opacity="1"/><rect x="515" y="298" width="150" height="142" fill="url(#pblue)" clip-path="url(#c12)" opacity="0.6"/></g>
<g clip-path="url(#c18)"><rect x="56" y="659" width="194" height="145" fill="#ebe9ea"/><g filter="url(#b15)"><ellipse cx="170.5" cy="726.5" rx="78.5" ry="63" fill="#e0adc4" /></g><ellipse cx="172" cy="728" rx="71.5" ry="58.3" fill="#f7f5f6" /><g clip-path="url(#c16)"><rect x="112" y="683" width="120" height="107" fill="url(#g17)"/></g><rect x="112" y="683" width="120" height="107" fill="url(#pgrey)" clip-path="url(#c16)" opacity="1"/><rect x="112" y="683" width="120" height="107" fill="url(#pgrey2)" clip-path="url(#c16)" opacity="1"/></g>
<g clip-path="url(#c21)"><rect x="272" y="659" width="193" height="145" fill="#ebe9eb"/><path d="M 285 795 L 465 780 L 465 804 L 280 804 Z" fill="#eecad9"/><g clip-path="url(#c19)"><path d="M 378 660 C 425 660 456 690 456 722 C 456 760 430 786 382 786 C 335 786 302 770 302 738 C 302 700 330 660 378 660 Z" fill="none" stroke="#eecad9" stroke-width="44"/><path d="M 378 660 C 425 660 456 690 456 722 C 456 760 430 786 382 786 C 335 786 302 770 302 738 C 302 700 330 660 378 660 Z" fill="none" stroke="#f6f4f5" stroke-width="17"/></g><path d="M 272 716 C 285 708 295 703 305 690" stroke="#888" stroke-width="0.6" fill="none"/><path d="M 378 660 C 425 660 456 690 456 722 C 456 760 430 786 382 786 C 335 786 302 770 302 738 C 302 700 330 660 378 660 Z" fill="#c4bcc4"/><g clip-path="url(#c20)"><g filter="url(#b5)"><ellipse cx="365" cy="735" rx="30" ry="18" fill="#dcd6dc"/><path d="M 300 655 L 460 655 L 460 790 L 386 790 C 382 760 378 735 350 725 C 325 720 305 722 300 712 Z" fill="#e590b4"/><path d="M 365 662 L 460 662 L 460 790 L 390 790 C 386 765 384 740 382 722 C 380 700 372 680 365 662 Z" fill="#d42a6b"/><ellipse cx="395" cy="688" rx="45" ry="20" fill="#dc4f88" opacity="0.7"/></g></g><rect x="300" y="655" width="160" height="135" fill="url(#pgrey)" clip-path="url(#c20)" opacity="0.9"/><rect x="300" y="655" width="160" height="135" fill="url(#pwhite)" clip-path="url(#c20)" opacity="1"/><rect x="300" y="655" width="160" height="135" fill="url(#pwhite2)" clip-path="url(#c20)" opacity="1"/></g>
<g clip-path="url(#c25)"><rect x="489" y="659" width="193" height="145" fill="#ebe9ea"/><ellipse cx="584.5" cy="734" rx="88" ry="74" fill="#e6dee5" /><g clip-path="url(#c22)"><g filter="url(#b24)"><ellipse cx="584" cy="742" rx="72" ry="66" fill="#e27ca6"/><ellipse cx="540" cy="750" rx="28" ry="50" fill="#e8a0bf"/><path d="M 588 664 L 685 664 L 685 742 C 668 738 650 735 640 725 C 625 708 615 690 588 664 Z" fill="#d3c9d1"/><path d="M 552 668 C 590 676 622 700 642 738 C 656 764 664 784 662 805 L 616 808 C 606 774 588 744 556 718 C 538 700 538 676 552 668 Z" fill="#d12d6c"/></g></g><rect x="495" y="660" width="180" height="150" fill="url(#pgrey)" clip-path="url(#c22)" opacity="0.7"/><rect x="495" y="660" width="180" height="150" fill="url(#pwhite)" clip-path="url(#c23)" opacity="1"/><rect x="495" y="660" width="180" height="150" fill="url(#pwhite2)" clip-path="url(#c23)" opacity="1"/></g>
<g clip-path="url(#c28)"><rect x="272" y="826" width="193" height="145" fill="#ece5ea"/><rect x="272" y="946" width="193" height="25" fill="#efebee"/><g filter="url(#b13)"><ellipse cx="372" cy="826" rx="70" ry="22" fill="#e8c6d5" /></g><ellipse cx="379.2" cy="889.9" rx="62.5" ry="52.9" fill="#f5f3f4" /><ellipse cx="290" cy="978" rx="66" ry="77" fill="#f5f3f4" /><ellipse cx="380" cy="893.8" rx="52.9" ry="47.2" fill="#d6cfd7" /><rect x="325" y="845" width="110" height="98" fill="url(#pgrey)" clip-path="url(#c26)" opacity="1"/><rect x="325" y="845" width="110" height="98" fill="url(#pgrey2)" clip-path="url(#c26)" opacity="1"/><ellipse cx="288" cy="980" rx="58" ry="70" fill="#d2cad3" /><rect x="272" y="905" width="78" height="67" fill="url(#pgrey)" clip-path="url(#c27)" opacity="1"/><rect x="272" y="905" width="78" height="67" fill="url(#pgrey2)" clip-path="url(#c27)" opacity="1"/></g>
<g clip-path="url(#c31)"><rect x="489" y="827" width="193" height="145" fill="#ebe9ea"/><rect x="489" y="947" width="193" height="25" fill="#efedee"/><ellipse cx="593.4" cy="895.5" rx="64.6" ry="66.5" fill="#e8e2e7" /><g clip-path="url(#c29)"><g filter="url(#b30)"><path d="M 590 822 C 578 860 582 930 612 968 L 668 968 L 668 822 Z" fill="#d2306f"/></g></g><rect x="525" y="825" width="137" height="140" fill="url(#pgrey)" clip-path="url(#c29)" opacity="0.6"/><rect x="525" y="825" width="137" height="140" fill="url(#pwhite)" clip-path="url(#c29)" opacity="1"/><rect x="676" y="900" width="6" height="40" fill="#ead2dc"/></g>
<line x1="154" y1="271" x2="154" y2="350" stroke="#111" stroke-width="1.5"/>
<line x1="250" y1="199" x2="259" y2="199" stroke="#111" stroke-width="1.5"/><polygon points="257,193.3 272,199 257,204.7" fill="#111"/>
<line x1="465.3" y1="198.5" x2="476" y2="198.5" stroke="#111" stroke-width="1.5"/><polygon points="474,192.8 489,198.5 474,204.2" fill="#111"/>
<line x1="211" y1="366.4" x2="259" y2="366.4" stroke="#111" stroke-width="1.5"/><polygon points="257,360.7 272,366.4 257,372.09999999999997" fill="#111"/>
<line x1="465.3" y1="366.4" x2="476" y2="366.4" stroke="#111" stroke-width="1.5"/><polygon points="474,360.7 489,366.4 474,372.09999999999997" fill="#111"/>
<rect x="97.6" y="350.4" width="113.2" height="34.2" fill="#fff" stroke="#111" stroke-width="1.5"/>
<text x="121.11" y="375.80" font-size="25.60" textLength="69.62" lengthAdjust="spacingAndGlyphs" fill="#000" ><tspan font-weight="bold" font-style="normal">20 Gy</tspan></text>
<rect x="56" y="96.8" width="194" height="29.200000000000003" fill="#7f7f7f" stroke="#111" stroke-width="1.6"/><text x="115.17" y="120.70" font-size="26.80" textLength="68.86" lengthAdjust="spacingAndGlyphs" fill="#000" ><tspan font-weight="bold" font-style="normal">Day 7</tspan></text>
<rect x="56" y="126" width="194" height="145" fill="none" stroke="#111" stroke-width="1.6"/>
<rect x="272" y="96.8" width="193.3" height="29.200000000000003" fill="#b0b0b0" stroke="#111" stroke-width="1.6"/><text x="325.24" y="120.70" font-size="26.80" textLength="84.70" lengthAdjust="spacingAndGlyphs" fill="#000" ><tspan font-weight="bold" font-style="normal">Day 14</tspan></text>
<rect x="272" y="126" width="193.3" height="145" fill="none" stroke="#111" stroke-width="1.6"/>
<rect x="489" y="96.8" width="193" height="29.200000000000003" fill="#e6e6e6" stroke="#111" stroke-width="1.6"/><text x="544.10" y="120.70" font-size="26.80" textLength="81.80" lengthAdjust="spacingAndGlyphs" fill="#000" ><tspan font-weight="bold" font-style="normal">Day 21</tspan></text>
<rect x="489" y="126" width="193" height="145" fill="none" stroke="#111" stroke-width="1.6"/>
<rect x="272" y="293" width="193.3" height="145" fill="none" stroke="#111" stroke-width="1.6"/>
<rect x="489" y="293" width="193" height="145" fill="none" stroke="#111" stroke-width="1.6"/>
<line x1="223" y1="263" x2="247" y2="263" stroke="#222" stroke-width="1.4"/>
<line x1="439.5" y1="263" x2="463" y2="263" stroke="#222" stroke-width="1.4"/>
<line x1="656" y1="263" x2="680" y2="263" stroke="#222" stroke-width="1.4"/>
<line x1="439.5" y1="430" x2="463" y2="430" stroke="#222" stroke-width="1.4"/>
<line x1="656" y1="430" x2="680" y2="430" stroke="#222" stroke-width="1.4"/>
<rect x="679" y="280.2" width="3" height="1.8" fill="#333"/>
<line x1="154" y1="804" x2="154" y2="883" stroke="#111" stroke-width="1.5"/>
<line x1="250" y1="732" x2="259" y2="732" stroke="#111" stroke-width="1.5"/><polygon points="257,726.3 272,732 257,737.7" fill="#111"/>
<line x1="465.3" y1="731.5" x2="476" y2="731.5" stroke="#111" stroke-width="1.5"/><polygon points="474,725.8 489,731.5 474,737.2" fill="#111"/>
<line x1="211" y1="899.4" x2="259" y2="899.4" stroke="#111" stroke-width="1.5"/><polygon points="257,893.6999999999999 272,899.4 257,905.1" fill="#111"/>
<line x1="465.3" y1="899.4" x2="476" y2="899.4" stroke="#111" stroke-width="1.5"/><polygon points="474,893.6999999999999 489,899.4 474,905.1" fill="#111"/>
<rect x="97.6" y="883.4" width="113.2" height="34.2" fill="#fff" stroke="#111" stroke-width="1.5"/>
<text x="121.11" y="908.80" font-size="25.60" textLength="69.62" lengthAdjust="spacingAndGlyphs" fill="#000" ><tspan font-weight="bold" font-style="normal">20 Gy</tspan></text>
<rect x="56" y="629.8" width="194" height="29.200000000000045" fill="#7f7f7f" stroke="#111" stroke-width="1.6"/><text x="115.17" y="653.70" font-size="26.80" textLength="68.86" lengthAdjust="spacingAndGlyphs" fill="#000" ><tspan font-weight="bold" font-style="normal">Day 7</tspan></text>
<rect x="56" y="659" width="194" height="145" fill="none" stroke="#111" stroke-width="1.6"/>
<rect x="272" y="629.8" width="193.3" height="29.200000000000045" fill="#b0b0b0" stroke="#111" stroke-width="1.6"/><text x="325.24" y="653.70" font-size="26.80" textLength="84.70" lengthAdjust="spacingAndGlyphs" fill="#000" ><tspan font-weight="bold" font-style="normal">Day 14</tspan></text>
<rect x="272" y="659" width="193.3" height="145" fill="none" stroke="#111" stroke-width="1.6"/>
<rect x="489" y="629.8" width="193" height="29.200000000000045" fill="#e6e6e6" stroke="#111" stroke-width="1.6"/><text x="544.10" y="653.70" font-size="26.80" textLength="81.80" lengthAdjust="spacingAndGlyphs" fill="#000" ><tspan font-weight="bold" font-style="normal">Day 21</tspan></text>
<rect x="489" y="659" width="193" height="145" fill="none" stroke="#111" stroke-width="1.6"/>
<rect x="272" y="826" width="193.3" height="145" fill="none" stroke="#111" stroke-width="1.6"/>
<rect x="489" y="826" width="193" height="145" fill="none" stroke="#111" stroke-width="1.6"/>
<line x1="223" y1="796" x2="247" y2="796" stroke="#222" stroke-width="1.4"/>
<line x1="439.5" y1="796" x2="463" y2="796" stroke="#222" stroke-width="1.4"/>
<line x1="656" y1="796" x2="680" y2="796" stroke="#222" stroke-width="1.4"/>
<line x1="439.5" y1="963" x2="463" y2="963" stroke="#222" stroke-width="1.4"/>
<line x1="656" y1="963" x2="680" y2="963" stroke="#222" stroke-width="1.4"/>
<rect x="796.0" y="465.3" width="66.6" height="65.4" fill="#808080"/>
<rect x="862.6" y="465.3" width="116.8" height="65.4" fill="#b3b3b3"/>
<rect x="979.4" y="465.3" width="125.2" height="65.4" fill="#e6e6e6"/>
<line x1="862.60" y1="465.30" x2="862.60" y2="530.70" stroke="#2a2a2a" stroke-width="1.1" />
<line x1="979.40" y1="465.30" x2="979.40" y2="530.70" stroke="#2a2a2a" stroke-width="1.1" />
<line x1="797.00" y1="437.93" x2="1104.10" y2="437.93" stroke="#9a9a9a" stroke-width="0.9" stroke-dasharray="1.4 1.6"/>
<line x1="797.00" y1="410.56" x2="1104.10" y2="410.56" stroke="#9a9a9a" stroke-width="0.9" stroke-dasharray="1.4 1.6"/>
<line x1="797.00" y1="383.19" x2="1104.10" y2="383.19" stroke="#9a9a9a" stroke-width="0.9" stroke-dasharray="1.4 1.6"/>
<line x1="797.00" y1="355.82" x2="1104.10" y2="355.82" stroke="#9a9a9a" stroke-width="0.9" stroke-dasharray="1.4 1.6"/>
<line x1="797.00" y1="328.45" x2="1104.10" y2="328.45" stroke="#9a9a9a" stroke-width="0.9" stroke-dasharray="1.4 1.6"/>
<line x1="797.00" y1="301.08" x2="1104.10" y2="301.08" stroke="#9a9a9a" stroke-width="0.9" stroke-dasharray="1.4 1.6"/>
<line x1="797.00" y1="273.71" x2="1104.10" y2="273.71" stroke="#9a9a9a" stroke-width="0.9" stroke-dasharray="1.4 1.6"/>
<line x1="797.00" y1="246.34" x2="1104.10" y2="246.34" stroke="#9a9a9a" stroke-width="0.9" stroke-dasharray="1.4 1.6"/>
<line x1="797.00" y1="218.97" x2="1104.10" y2="218.97" stroke="#9a9a9a" stroke-width="0.9" stroke-dasharray="1.4 1.6"/>
<line x1="797.00" y1="191.60" x2="1104.10" y2="191.60" stroke="#9a9a9a" stroke-width="0.9" stroke-dasharray="1.4 1.6"/>
<line x1="797.00" y1="164.23" x2="1104.10" y2="164.23" stroke="#9a9a9a" stroke-width="0.9" stroke-dasharray="1.4 1.6"/>
<line x1="797.00" y1="136.86" x2="1104.10" y2="136.86" stroke="#9a9a9a" stroke-width="0.9" stroke-dasharray="1.4 1.6"/>
<line x1="797.00" y1="109.49" x2="1104.10" y2="109.49" stroke="#9a9a9a" stroke-width="0.9" stroke-dasharray="1.4 1.6"/>
<line x1="797.00" y1="82.12" x2="1104.10" y2="82.12" stroke="#9a9a9a" stroke-width="0.9" stroke-dasharray="1.4 1.6"/>
<line x1="834.30" y1="55.20" x2="834.30" y2="464.80" stroke="#9a9a9a" stroke-width="0.9" stroke-dasharray="1.4 1.6"/>
<line x1="892.00" y1="55.20" x2="892.00" y2="464.80" stroke="#9a9a9a" stroke-width="0.9" stroke-dasharray="1.4 1.6"/>
<line x1="950.30" y1="55.20" x2="950.30" y2="464.80" stroke="#9a9a9a" stroke-width="0.9" stroke-dasharray="1.4 1.6"/>
<line x1="1008.00" y1="55.20" x2="1008.00" y2="464.80" stroke="#9a9a9a" stroke-width="0.9" stroke-dasharray="1.4 1.6"/>
<line x1="1065.70" y1="55.20" x2="1065.70" y2="464.80" stroke="#9a9a9a" stroke-width="0.9" stroke-dasharray="1.4 1.6"/>
<line x1="834.30" y1="465.30" x2="834.30" y2="472.30" stroke="#2a2a2a" stroke-width="1" />
<line x1="892.00" y1="465.30" x2="892.00" y2="472.30" stroke="#2a2a2a" stroke-width="1" />
<line x1="950.30" y1="465.30" x2="950.30" y2="472.30" stroke="#2a2a2a" stroke-width="1" />
<line x1="1008.00" y1="465.30" x2="1008.00" y2="472.30" stroke="#2a2a2a" stroke-width="1" />
<line x1="1065.70" y1="465.30" x2="1065.70" y2="472.30" stroke="#2a2a2a" stroke-width="1" />
<line x1="788.00" y1="54.20" x2="1105.10" y2="54.20" stroke="#2a2a2a" stroke-width="1.1" />
<line x1="1104.60" y1="54.20" x2="1104.60" y2="465.30" stroke="#2a2a2a" stroke-width="1.1" />
<line x1="788.00" y1="465.30" x2="1105.10" y2="465.30" stroke="#1a1a1a" stroke-width="1.3" />
<line x1="796.00" y1="54.20" x2="796.00" y2="465.30" stroke="#3a3a3a" stroke-width="1.3" />
<line x1="788.00" y1="465.30" x2="796.00" y2="465.30" stroke="#2a2a2a" stroke-width="1.2" />
<line x1="788.00" y1="437.93" x2="796.00" y2="437.93" stroke="#2a2a2a" stroke-width="1.2" />
<line x1="788.00" y1="410.56" x2="796.00" y2="410.56" stroke="#2a2a2a" stroke-width="1.2" />
<line x1="788.00" y1="383.19" x2="796.00" y2="383.19" stroke="#2a2a2a" stroke-width="1.2" />
<line x1="788.00" y1="355.82" x2="796.00" y2="355.82" stroke="#2a2a2a" stroke-width="1.2" />
<line x1="788.00" y1="328.45" x2="796.00" y2="328.45" stroke="#2a2a2a" stroke-width="1.2" />
<line x1="788.00" y1="301.08" x2="796.00" y2="301.08" stroke="#2a2a2a" stroke-width="1.2" />
<line x1="788.00" y1="273.71" x2="796.00" y2="273.71" stroke="#2a2a2a" stroke-width="1.2" />
<line x1="788.00" y1="246.34" x2="796.00" y2="246.34" stroke="#2a2a2a" stroke-width="1.2" />
<line x1="788.00" y1="218.97" x2="796.00" y2="218.97" stroke="#2a2a2a" stroke-width="1.2" />
<line x1="788.00" y1="191.60" x2="796.00" y2="191.60" stroke="#2a2a2a" stroke-width="1.2" />
<line x1="788.00" y1="164.23" x2="796.00" y2="164.23" stroke="#2a2a2a" stroke-width="1.2" />
<line x1="788.00" y1="136.86" x2="796.00" y2="136.86" stroke="#2a2a2a" stroke-width="1.2" />
<line x1="788.00" y1="109.49" x2="796.00" y2="109.49" stroke="#2a2a2a" stroke-width="1.2" />
<line x1="788.00" y1="82.12" x2="796.00" y2="82.12" stroke="#2a2a2a" stroke-width="1.2" />
<line x1="788.00" y1="54.75" x2="796.00" y2="54.75" stroke="#2a2a2a" stroke-width="1.2" />
<text x="755.93" y="472.00" font-size="28.50" textLength="30.94" lengthAdjust="spacingAndGlyphs" fill="#000" ><tspan font-weight="normal" font-style="normal">0.0</tspan></text>
<text x="755.92" y="444.63" font-size="28.50" textLength="31.17" lengthAdjust="spacingAndGlyphs" fill="#000" ><tspan font-weight="normal" font-style="normal">0.1</tspan></text>
<text x="755.92" y="417.26" font-size="28.50" textLength="31.21" lengthAdjust="spacingAndGlyphs" fill="#000" ><tspan font-weight="normal" font-style="normal">0.2</tspan></text>
<text x="755.93" y="389.89" font-size="28.50" textLength="31.05" lengthAdjust="spacingAndGlyphs" fill="#000" ><tspan font-weight="normal" font-style="normal">0.3</tspan></text>
<text x="755.94" y="362.52" font-size="28.50" textLength="30.71" lengthAdjust="spacingAndGlyphs" fill="#000" ><tspan font-weight="normal" font-style="normal">0.4</tspan></text>
<text x="755.93" y="335.15" font-size="28.50" textLength="31.01" lengthAdjust="spacingAndGlyphs" fill="#000" ><tspan font-weight="normal" font-style="normal">0.5</tspan></text>
<text x="755.93" y="307.78" font-size="28.50" textLength="31.05" lengthAdjust="spacingAndGlyphs" fill="#000" ><tspan font-weight="normal" font-style="normal">0.6</tspan></text>
<text x="755.92" y="280.41" font-size="28.50" textLength="31.21" lengthAdjust="spacingAndGlyphs" fill="#000" ><tspan font-weight="normal" font-style="normal">0.7</tspan></text>
<text x="755.93" y="253.04" font-size="28.50" textLength="31.04" lengthAdjust="spacingAndGlyphs" fill="#000" ><tspan font-weight="normal" font-style="normal">0.8</tspan></text>
<text x="755.93" y="225.67" font-size="28.50" textLength="31.14" lengthAdjust="spacingAndGlyphs" fill="#000" ><tspan font-weight="normal" font-style="normal">0.9</tspan></text>
<text x="756.12" y="198.30" font-size="28.50" textLength="30.75" lengthAdjust="spacingAndGlyphs" fill="#000" ><tspan font-weight="normal" font-style="normal">1.0</tspan></text>
<text x="756.10" y="170.93" font-size="28.50" textLength="30.99" lengthAdjust="spacingAndGlyphs" fill="#000" ><tspan font-weight="normal" font-style="normal">1.1</tspan></text>
<text x="756.10" y="143.56" font-size="28.50" textLength="31.02" lengthAdjust="spacingAndGlyphs" fill="#000" ><tspan font-weight="normal" font-style="normal">1.2</tspan></text>
<text x="756.11" y="116.19" font-size="28.50" textLength="30.87" lengthAdjust="spacingAndGlyphs" fill="#000" ><tspan font-weight="normal" font-style="normal">1.3</tspan></text>
<text x="756.13" y="88.82" font-size="28.50" textLength="30.52" lengthAdjust="spacingAndGlyphs" fill="#000" ><tspan font-weight="normal" font-style="normal">1.4</tspan></text>
<text x="756.11" y="61.45" font-size="28.50" textLength="30.82" lengthAdjust="spacingAndGlyphs" fill="#000" ><tspan font-weight="normal" font-style="normal">1.5</tspan></text>
<line x1="853.50" y1="456.00" x2="1104.60" y2="456.00" stroke="#111" stroke-width="1.4" stroke-dasharray="3.6 2.8"/>
<circle cx="820.3" cy="465.3" r="5.20" fill="#30564f" stroke="#16262a" stroke-width="0.7"/>
<circle cx="848.8" cy="465.3" r="5.20" fill="#30564f" stroke="#16262a" stroke-width="0.7"/>
<polygon points="830.0,460.1 835.2,465.3 830.0,470.5 824.8,465.3" fill="#b98a2d" stroke="#4b3610" stroke-width="0.7"/>
<polygon points="839.2,460.1 844.4,465.3 839.2,470.5 834.0,465.3" fill="#b98a2d" stroke="#4b3610" stroke-width="0.7"/>
<polygon points="829.4,440.4 834.6,450.0 824.2,450.0" fill="#eea8ae" stroke="#6e5256" stroke-width="0.7"/>
<polygon points="839.0,439.8 844.2,445.0 839.0,450.2 833.8,445.0" fill="#b98a2d" stroke="#4b3610" stroke-width="0.7"/>
<rect x="886.8" y="271.5" width="10.4" height="10.4" fill="#23254a" stroke="#0d0e22" stroke-width="0.7"/>
<rect x="872.8" y="294.1" width="10.4" height="10.4" fill="#23254a" stroke="#0d0e22" stroke-width="0.7"/>
<rect x="901.1" y="297.8" width="10.4" height="10.4" fill="#23254a" stroke="#0d0e22" stroke-width="0.7"/>
<polygon points="892.0,333.4 897.2,343.0 886.8,343.0" fill="#eea8ae" stroke="#6e5256" stroke-width="0.7"/>
<circle cx="878.0" cy="399.0" r="5.20" fill="#30564f" stroke="#16262a" stroke-width="0.7"/>
<polygon points="906.3,393.2 911.5,398.4 906.3,403.6 901.1,398.4" fill="#b98a2d" stroke="#4b3610" stroke-width="0.7"/>
<polygon points="878.0,426.1 883.2,431.3 878.0,436.5 872.8,431.3" fill="#b98a2d" stroke="#4b3610" stroke-width="0.7"/>
<circle cx="906.3" cy="429.0" r="5.20" fill="#30564f" stroke="#16262a" stroke-width="0.7"/>
<polygon points="892.0,448.3 897.2,453.5 892.0,458.7 886.8,453.5" fill="#b98a2d" stroke="#4b3610" stroke-width="0.7"/>
<circle cx="892.0" cy="465.3" r="5.20" fill="#30564f" stroke="#16262a" stroke-width="0.7"/>
<rect x="930.6" y="271.8" width="10.4" height="10.4" fill="#23254a" stroke="#0d0e22" stroke-width="0.7"/>
<rect x="945.2" y="267.8" width="10.4" height="10.4" fill="#23254a" stroke="#0d0e22" stroke-width="0.7"/>
<rect x="959.4" y="261.6" width="10.4" height="10.4" fill="#23254a" stroke="#0d0e22" stroke-width="0.7"/>
<polygon points="950.4,281.0 955.6,290.6 945.2,290.6" fill="#eea8ae" stroke="#6e5256" stroke-width="0.7"/>
<polygon points="935.8,439.8 941.0,445.0 935.8,450.2 930.6,445.0" fill="#b98a2d" stroke="#4b3610" stroke-width="0.7"/>
<polygon points="950.4,442.8 955.6,448.0 950.4,453.2 945.2,448.0" fill="#b98a2d" stroke="#4b3610" stroke-width="0.7"/>
<polygon points="964.6,441.6 969.8,446.8 964.6,452.0 959.4,446.8" fill="#b98a2d" stroke="#4b3610" stroke-width="0.7"/>
<circle cx="935.8" cy="465.3" r="5.20" fill="#30564f" stroke="#16262a" stroke-width="0.7"/>
<circle cx="950.4" cy="465.3" r="5.20" fill="#30564f" stroke="#16262a" stroke-width="0.7"/>
<circle cx="964.6" cy="465.3" r="5.20" fill="#30564f" stroke="#16262a" stroke-width="0.7"/>
<polygon points="1008.0,132.2 1013.2,141.8 1002.8,141.8" fill="#eea8ae" stroke="#6e5256" stroke-width="0.7"/>
<rect x="1002.8" y="201.4" width="10.4" height="10.4" fill="#23254a" stroke="#0d0e22" stroke-width="0.7"/>
<circle cx="993.6" cy="255.7" r="5.20" fill="#30564f" stroke="#16262a" stroke-width="0.7"/>
<circle cx="1022.0" cy="254.5" r="5.20" fill="#30564f" stroke="#16262a" stroke-width="0.7"/>
<circle cx="993.6" cy="287.5" r="5.20" fill="#30564f" stroke="#16262a" stroke-width="0.7"/>
<polygon points="1022.0,281.3 1027.2,286.5 1022.0,291.7 1016.8,286.5" fill="#b98a2d" stroke="#4b3610" stroke-width="0.7"/>
<polygon points="1008.0,299.0 1013.2,304.2 1008.0,309.4 1002.8,304.2" fill="#b98a2d" stroke="#4b3610" stroke-width="0.7"/>
<polygon points="1008.0,381.4 1013.2,386.6 1008.0,391.8 1002.8,386.6" fill="#b98a2d" stroke="#4b3610" stroke-width="0.7"/>
<polygon points="1051.7,223.5 1056.9,233.1 1046.5,233.1" fill="#eea8ae" stroke="#6e5256" stroke-width="0.7"/>
<rect x="1060.8" y="233.1" width="10.4" height="10.4" fill="#23254a" stroke="#0d0e22" stroke-width="0.7"/>
<polygon points="1051.7,273.8 1056.9,283.4 1046.5,283.4" fill="#eea8ae" stroke="#6e5256" stroke-width="0.7"/>
<rect x="1060.8" y="282.0" width="10.4" height="10.4" fill="#23254a" stroke="#0d0e22" stroke-width="0.7"/>
<polygon points="1066.0,345.8 1071.2,351.0 1066.0,356.2 1060.8,351.0" fill="#b98a2d" stroke="#4b3610" stroke-width="0.7"/>
<polygon points="1066.0,360.5 1071.2,365.7 1066.0,370.9 1060.8,365.7" fill="#b98a2d" stroke="#4b3610" stroke-width="0.7"/>
<polygon points="1066.0,438.4 1071.2,443.6 1066.0,448.8 1060.8,443.6" fill="#b98a2d" stroke="#4b3610" stroke-width="0.7"/>
<circle cx="1052.0" cy="465.3" r="5.20" fill="#30564f" stroke="#16262a" stroke-width="0.7"/>
<circle cx="1080.2" cy="465.3" r="5.20" fill="#30564f" stroke="#16262a" stroke-width="0.7"/>
<polygon points="1066.0,456.4 1071.2,466.0 1060.8,466.0" fill="#eea8ae" stroke="#6e5256" stroke-width="0.7"/>
<rect x="815.3" y="454.1" width="38.2" height="3.8" fill="#0a0a0a"/>
<rect x="873.0" y="369.9" width="38.0" height="3.8" fill="#0a0a0a"/>
<rect x="931.0" y="365.5" width="38.0" height="3.8" fill="#0a0a0a"/>
<rect x="988.7" y="231.7" width="38.1" height="3.8" fill="#0a0a0a"/>
<rect x="1046.5" y="357.1" width="38.1" height="3.8" fill="#0a0a0a"/>
<line x1="834.30" y1="76.30" x2="1065.70" y2="76.30" stroke="#111" stroke-width="2.7" />
<line x1="834.30" y1="71.10" x2="834.30" y2="81.50" stroke="#111" stroke-width="2.3" stroke-linecap="round"/>
<line x1="1065.70" y1="71.10" x2="1065.70" y2="81.50" stroke="#111" stroke-width="2.3" stroke-linecap="round"/>
<line x1="1008.00" y1="106.10" x2="1065.70" y2="106.10" stroke="#111" stroke-width="2.7" />
<line x1="1008.00" y1="100.90" x2="1008.00" y2="111.30" stroke="#111" stroke-width="2.3" stroke-linecap="round"/>
<line x1="1065.70" y1="100.90" x2="1065.70" y2="111.30" stroke="#111" stroke-width="2.3" stroke-linecap="round"/>
<line x1="834.30" y1="121.60" x2="1008.00" y2="121.60" stroke="#111" stroke-width="2.7" />
<line x1="834.30" y1="116.40" x2="834.30" y2="126.80" stroke="#111" stroke-width="2.3" stroke-linecap="round"/>
<line x1="1008.00" y1="116.40" x2="1008.00" y2="126.80" stroke="#111" stroke-width="2.3" stroke-linecap="round"/>
<line x1="834.30" y1="191.60" x2="950.40" y2="191.60" stroke="#111" stroke-width="2.7" />
<line x1="834.30" y1="186.40" x2="834.30" y2="196.80" stroke="#111" stroke-width="2.3" stroke-linecap="round"/>
<line x1="950.40" y1="186.40" x2="950.40" y2="196.80" stroke="#111" stroke-width="2.3" stroke-linecap="round"/>
<line x1="892.00" y1="231.00" x2="950.40" y2="231.00" stroke="#111" stroke-width="2.7" />
<line x1="892.00" y1="225.80" x2="892.00" y2="236.20" stroke="#111" stroke-width="2.3" stroke-linecap="round"/>
<line x1="950.40" y1="225.80" x2="950.40" y2="236.20" stroke="#111" stroke-width="2.3" stroke-linecap="round"/>
<line x1="834.30" y1="262.20" x2="892.00" y2="262.20" stroke="#111" stroke-width="2.7" />
<line x1="834.30" y1="257.00" x2="834.30" y2="267.40" stroke="#111" stroke-width="2.3" stroke-linecap="round"/>
<line x1="892.00" y1="257.00" x2="892.00" y2="267.40" stroke="#111" stroke-width="2.3" stroke-linecap="round"/>
<text x="928.51" y="70.00" font-size="21.70" textLength="45.23" lengthAdjust="spacingAndGlyphs" fill="#000" ><tspan font-weight="normal" font-style="italic">p</tspan><tspan font-weight="normal" font-style="normal">=ns</tspan></text>
<text x="1000.71" y="98.30" font-size="21.70" textLength="74.15" lengthAdjust="spacingAndGlyphs" fill="#000" ><tspan font-weight="normal" font-style="italic">p</tspan><tspan font-weight="normal" font-style="normal">=0.035</tspan></text>
<text x="883.52" y="112.50" font-size="21.70" textLength="75.99" lengthAdjust="spacingAndGlyphs" fill="#000" ><tspan font-weight="normal" font-style="italic">p</tspan><tspan font-weight="normal" font-style="normal">=0.028</tspan></text>
<text x="868.54" y="182.50" font-size="21.70" textLength="47.24" lengthAdjust="spacingAndGlyphs" fill="#000" ><tspan font-weight="normal" font-style="italic">p</tspan><tspan font-weight="normal" font-style="normal">=ns</tspan></text>
<text x="898.53" y="219.90" font-size="21.70" textLength="47.04" lengthAdjust="spacingAndGlyphs" fill="#000" ><tspan font-weight="normal" font-style="italic">p</tspan><tspan font-weight="normal" font-style="normal">=ns</tspan></text>
<text x="840.14" y="254.40" font-size="21.70" textLength="47.24" lengthAdjust="spacingAndGlyphs" fill="#000" ><tspan font-weight="normal" font-style="italic">p</tspan><tspan font-weight="normal" font-style="normal">=ns</tspan></text>
<text x="813.16" y="495.00" font-size="24.60" textLength="40.44" lengthAdjust="spacingAndGlyphs" fill="#000" stroke="#000" stroke-width="0.2"><tspan font-weight="bold" font-style="normal">0 Gy</tspan></text>
<text x="871.18" y="495.00" font-size="24.60" textLength="39.42" lengthAdjust="spacingAndGlyphs" fill="#000" stroke="#000" stroke-width="0.2"><tspan font-weight="bold" font-style="normal">0 Gy</tspan></text>
<text x="922.85" y="495.00" font-size="24.60" textLength="51.25" lengthAdjust="spacingAndGlyphs" fill="#000" stroke="#000" stroke-width="0.2"><tspan font-weight="bold" font-style="normal">20 Gy</tspan></text>
<text x="987.28" y="495.00" font-size="24.60" textLength="39.42" lengthAdjust="spacingAndGlyphs" fill="#000" stroke="#000" stroke-width="0.2"><tspan font-weight="bold" font-style="normal">0 Gy</tspan></text>
<text x="1038.45" y="495.00" font-size="24.60" textLength="51.25" lengthAdjust="spacingAndGlyphs" fill="#000" stroke="#000" stroke-width="0.2"><tspan font-weight="bold" font-style="normal">20 Gy</tspan></text>
<text x="797.09" y="521.20" font-size="23.00" textLength="60.30" lengthAdjust="spacingAndGlyphs" fill="#000" ><tspan font-weight="bold" font-style="normal">Day 7</tspan></text>
<text x="882.68" y="521.20" font-size="23.00" textLength="73.45" lengthAdjust="spacingAndGlyphs" fill="#000" ><tspan font-weight="bold" font-style="normal">Day 14</tspan></text>
<text x="1001.99" y="521.20" font-size="23.00" textLength="72.63" lengthAdjust="spacingAndGlyphs" fill="#000" ><tspan font-weight="bold" font-style="normal">Day 21</tspan></text>
<text transform="scale(0.88,1)" x="910.02" y="35.80" font-size="35.60" textLength="369.58" lengthAdjust="spacing" fill="#000" ><tspan font-weight="bold" font-style="normal">GAG quantification</tspan></text>
<text transform="rotate(-90)" x="-373.81" y="748.00" font-size="28.20" textLength="236.39" lengthAdjust="spacingAndGlyphs" fill="#000" ><tspan font-weight="bold" font-style="normal">Positive area (mm²)</tspan></text>
<text x="1112.07" y="461.20" font-size="27.80" textLength="69.07" lengthAdjust="spacingAndGlyphs" fill="#000" ><tspan font-weight="bold" font-style="normal">Day 7</tspan></text>
<circle cx="1128.1" cy="66.7" r="5.30" fill="#30564f" stroke="#16262a" stroke-width="0.7"/>
<text x="1138.67" y="75.80" font-size="26.60" textLength="76.97" lengthAdjust="spacingAndGlyphs" fill="#000" ><tspan font-weight="normal" font-style="normal">MSC-7</tspan></text>
<polygon points="1128.1,85.7 1133.4,91.0 1128.1,96.3 1122.8,91.0" fill="#b98a2d" stroke="#4b3610" stroke-width="0.7"/>
<text x="1138.66" y="100.00" font-size="26.60" textLength="77.42" lengthAdjust="spacingAndGlyphs" fill="#000" ><tspan font-weight="normal" font-style="normal">MSC-8</tspan></text>
<rect x="1122.8" y="110.2" width="10.6" height="10.6" fill="#23254a" stroke="#0d0e22" stroke-width="0.7"/>
<text x="1138.66" y="124.20" font-size="26.60" textLength="77.52" lengthAdjust="spacingAndGlyphs" fill="#000" ><tspan font-weight="normal" font-style="normal">MSC-9</tspan></text>
<polygon points="1128.1,135.0 1133.4,144.8 1122.8,144.8" fill="#eea8ae" stroke="#6e5256" stroke-width="0.7"/>
<text x="1138.64" y="149.00" font-size="26.60" textLength="92.04" lengthAdjust="spacingAndGlyphs" fill="#000" ><tspan font-weight="normal" font-style="normal">MSC-10</tspan></text>
<rect x="797.4" y="1010.0" width="65.9" height="65.7" fill="#808080"/>
<rect x="863.3" y="1010.0" width="116.8" height="65.7" fill="#b3b3b3"/>
<rect x="980.1" y="1010.0" width="125.2" height="65.7" fill="#e6e6e6"/>
<line x1="863.30" y1="1010.00" x2="863.30" y2="1075.70" stroke="#2a2a2a" stroke-width="1.1" />
<line x1="980.10" y1="1010.00" x2="980.10" y2="1075.70" stroke="#2a2a2a" stroke-width="1.1" />
<line x1="798.40" y1="989.46" x2="1104.80" y2="989.46" stroke="#9a9a9a" stroke-width="0.9" stroke-dasharray="1.4 1.6"/>
<line x1="798.40" y1="968.92" x2="1104.80" y2="968.92" stroke="#9a9a9a" stroke-width="0.9" stroke-dasharray="1.4 1.6"/>
<line x1="798.40" y1="948.38" x2="1104.80" y2="948.38" stroke="#9a9a9a" stroke-width="0.9" stroke-dasharray="1.4 1.6"/>
<line x1="798.40" y1="927.84" x2="1104.80" y2="927.84" stroke="#9a9a9a" stroke-width="0.9" stroke-dasharray="1.4 1.6"/>
<line x1="798.40" y1="907.30" x2="1104.80" y2="907.30" stroke="#9a9a9a" stroke-width="0.9" stroke-dasharray="1.4 1.6"/>
<line x1="798.40" y1="886.76" x2="1104.80" y2="886.76" stroke="#9a9a9a" stroke-width="0.9" stroke-dasharray="1.4 1.6"/>
<line x1="798.40" y1="866.22" x2="1104.80" y2="866.22" stroke="#9a9a9a" stroke-width="0.9" stroke-dasharray="1.4 1.6"/>
<line x1="798.40" y1="845.68" x2="1104.80" y2="845.68" stroke="#9a9a9a" stroke-width="0.9" stroke-dasharray="1.4 1.6"/>
<line x1="798.40" y1="825.14" x2="1104.80" y2="825.14" stroke="#9a9a9a" stroke-width="0.9" stroke-dasharray="1.4 1.6"/>
<line x1="798.40" y1="804.60" x2="1104.80" y2="804.60" stroke="#9a9a9a" stroke-width="0.9" stroke-dasharray="1.4 1.6"/>
<line x1="798.40" y1="784.06" x2="1104.80" y2="784.06" stroke="#9a9a9a" stroke-width="0.9" stroke-dasharray="1.4 1.6"/>
<line x1="798.40" y1="763.52" x2="1104.80" y2="763.52" stroke="#9a9a9a" stroke-width="0.9" stroke-dasharray="1.4 1.6"/>
<line x1="798.40" y1="742.98" x2="1104.80" y2="742.98" stroke="#9a9a9a" stroke-width="0.9" stroke-dasharray="1.4 1.6"/>
<line x1="798.40" y1="722.44" x2="1104.80" y2="722.44" stroke="#9a9a9a" stroke-width="0.9" stroke-dasharray="1.4 1.6"/>
<line x1="798.40" y1="701.90" x2="1104.80" y2="701.90" stroke="#9a9a9a" stroke-width="0.9" stroke-dasharray="1.4 1.6"/>
<line x1="798.40" y1="681.36" x2="1104.80" y2="681.36" stroke="#9a9a9a" stroke-width="0.9" stroke-dasharray="1.4 1.6"/>
<line x1="798.40" y1="660.82" x2="1104.80" y2="660.82" stroke="#9a9a9a" stroke-width="0.9" stroke-dasharray="1.4 1.6"/>
<line x1="798.40" y1="640.28" x2="1104.80" y2="640.28" stroke="#9a9a9a" stroke-width="0.9" stroke-dasharray="1.4 1.6"/>
<line x1="798.40" y1="619.74" x2="1104.80" y2="619.74" stroke="#9a9a9a" stroke-width="0.9" stroke-dasharray="1.4 1.6"/>
<line x1="835.50" y1="600.20" x2="835.50" y2="1009.50" stroke="#9a9a9a" stroke-width="0.9" stroke-dasharray="1.4 1.6"/>
<line x1="893.30" y1="600.20" x2="893.30" y2="1009.50" stroke="#9a9a9a" stroke-width="0.9" stroke-dasharray="1.4 1.6"/>
<line x1="951.60" y1="600.20" x2="951.60" y2="1009.50" stroke="#9a9a9a" stroke-width="0.9" stroke-dasharray="1.4 1.6"/>
<line x1="1009.40" y1="600.20" x2="1009.40" y2="1009.50" stroke="#9a9a9a" stroke-width="0.9" stroke-dasharray="1.4 1.6"/>
<line x1="1067.20" y1="600.20" x2="1067.20" y2="1009.50" stroke="#9a9a9a" stroke-width="0.9" stroke-dasharray="1.4 1.6"/>
<line x1="835.50" y1="1010.00" x2="835.50" y2="1017.00" stroke="#2a2a2a" stroke-width="1" />
<line x1="893.30" y1="1010.00" x2="893.30" y2="1017.00" stroke="#2a2a2a" stroke-width="1" />
<line x1="951.60" y1="1010.00" x2="951.60" y2="1017.00" stroke="#2a2a2a" stroke-width="1" />
<line x1="1009.40" y1="1010.00" x2="1009.40" y2="1017.00" stroke="#2a2a2a" stroke-width="1" />
<line x1="1067.20" y1="1010.00" x2="1067.20" y2="1017.00" stroke="#2a2a2a" stroke-width="1" />
<line x1="789.40" y1="599.20" x2="1105.80" y2="599.20" stroke="#2a2a2a" stroke-width="1.1" />
<line x1="1105.30" y1="599.20" x2="1105.30" y2="1010.00" stroke="#2a2a2a" stroke-width="1.1" />
<line x1="789.40" y1="1010.00" x2="1105.80" y2="1010.00" stroke="#1a1a1a" stroke-width="1.3" />
<line x1="797.40" y1="599.20" x2="797.40" y2="1010.00" stroke="#3a3a3a" stroke-width="1.3" />
<line x1="789.40" y1="1010.00" x2="797.40" y2="1010.00" stroke="#2a2a2a" stroke-width="1.2" />
<line x1="789.40" y1="989.46" x2="797.40" y2="989.46" stroke="#2a2a2a" stroke-width="1.2" />
<line x1="789.40" y1="968.92" x2="797.40" y2="968.92" stroke="#2a2a2a" stroke-width="1.2" />
<line x1="789.40" y1="948.38" x2="797.40" y2="948.38" stroke="#2a2a2a" stroke-width="1.2" />
<line x1="789.40" y1="927.84" x2="797.40" y2="927.84" stroke="#2a2a2a" stroke-width="1.2" />
<line x1="789.40" y1="907.30" x2="797.40" y2="907.30" stroke="#2a2a2a" stroke-width="1.2" />
<line x1="789.40" y1="886.76" x2="797.40" y2="886.76" stroke="#2a2a2a" stroke-width="1.2" />
<line x1="789.40" y1="866.22" x2="797.40" y2="866.22" stroke="#2a2a2a" stroke-width="1.2" />
<line x1="789.40" y1="845.68" x2="797.40" y2="845.68" stroke="#2a2a2a" stroke-width="1.2" />
<line x1="789.40" y1="825.14" x2="797.40" y2="825.14" stroke="#2a2a2a" stroke-width="1.2" />
<line x1="789.40" y1="804.60" x2="797.40" y2="804.60" stroke="#2a2a2a" stroke-width="1.2" />
<line x1="789.40" y1="784.06" x2="797.40" y2="784.06" stroke="#2a2a2a" stroke-width="1.2" />
<line x1="789.40" y1="763.52" x2="797.40" y2="763.52" stroke="#2a2a2a" stroke-width="1.2" />
<line x1="789.40" y1="742.98" x2="797.40" y2="742.98" stroke="#2a2a2a" stroke-width="1.2" />
<line x1="789.40" y1="722.44" x2="797.40" y2="722.44" stroke="#2a2a2a" stroke-width="1.2" />
<line x1="789.40" y1="701.90" x2="797.40" y2="701.90" stroke="#2a2a2a" stroke-width="1.2" />
<line x1="789.40" y1="681.36" x2="797.40" y2="681.36" stroke="#2a2a2a" stroke-width="1.2" />
<line x1="789.40" y1="660.82" x2="797.40" y2="660.82" stroke="#2a2a2a" stroke-width="1.2" />
<line x1="789.40" y1="640.28" x2="797.40" y2="640.28" stroke="#2a2a2a" stroke-width="1.2" />
<line x1="789.40" y1="619.74" x2="797.40" y2="619.74" stroke="#2a2a2a" stroke-width="1.2" />
<line x1="789.40" y1="599.20" x2="797.40" y2="599.20" stroke="#2a2a2a" stroke-width="1.2" />
<text x="755.33" y="1019.40" font-size="30.70" textLength="30.94" lengthAdjust="spacingAndGlyphs" fill="#000" ><tspan font-weight="normal" font-style="normal">0.0</tspan></text>
<text x="755.32" y="978.32" font-size="30.70" textLength="31.21" lengthAdjust="spacingAndGlyphs" fill="#000" ><tspan font-weight="normal" font-style="normal">0.2</tspan></text>
<text x="755.34" y="937.24" font-size="30.70" textLength="30.71" lengthAdjust="spacingAndGlyphs" fill="#000" ><tspan font-weight="normal" font-style="normal">0.4</tspan></text>
<text x="755.33" y="896.16" font-size="30.70" textLength="31.05" lengthAdjust="spacingAndGlyphs" fill="#000" ><tspan font-weight="normal" font-style="normal">0.6</tspan></text>
<text x="755.33" y="855.08" font-size="30.70" textLength="31.04" lengthAdjust="spacingAndGlyphs" fill="#000" ><tspan font-weight="normal" font-style="normal">0.8</tspan></text>
<text x="755.52" y="814.00" font-size="30.70" textLength="30.75" lengthAdjust="spacingAndGlyphs" fill="#000" ><tspan font-weight="normal" font-style="normal">1.0</tspan></text>
<text x="755.50" y="772.92" font-size="30.70" textLength="31.02" lengthAdjust="spacingAndGlyphs" fill="#000" ><tspan font-weight="normal" font-style="normal">1.2</tspan></text>
<text x="755.53" y="731.84" font-size="30.70" textLength="30.52" lengthAdjust="spacingAndGlyphs" fill="#000" ><tspan font-weight="normal" font-style="normal">1.4</tspan></text>
<text x="755.51" y="690.76" font-size="30.70" textLength="30.87" lengthAdjust="spacingAndGlyphs" fill="#000" ><tspan font-weight="normal" font-style="normal">1.6</tspan></text>
<text x="755.51" y="649.68" font-size="30.70" textLength="30.86" lengthAdjust="spacingAndGlyphs" fill="#000" ><tspan font-weight="normal" font-style="normal">1.8</tspan></text>
<text x="756.11" y="608.60" font-size="30.70" textLength="30.14" lengthAdjust="spacingAndGlyphs" fill="#000" ><tspan font-weight="normal" font-style="normal">2.0</tspan></text>
<line x1="854.40" y1="1008.00" x2="1105.30" y2="1008.00" stroke="#111" stroke-width="1.4" stroke-dasharray="3.6 2.8"/>
<polygon points="836.0,987.8 841.2,997.4 830.8,997.4" fill="#eea8ae" stroke="#6e5256" stroke-width="0.7"/>
<polygon points="822.0,1004.4 827.2,1009.6 822.0,1014.8 816.8,1009.6" fill="#b98a2d" stroke="#4b3610" stroke-width="0.7"/>
<polygon points="827.0,1004.8 832.2,1014.4 821.8,1014.4" fill="#eea8ae" stroke="#6e5256" stroke-width="0.7"/>
<circle cx="836.0" cy="1009.6" r="5.20" fill="#30564f" stroke="#16262a" stroke-width="0.7"/>
<polygon points="841.6,1004.8 846.8,1014.4 836.4,1014.4" fill="#eea8ae" stroke="#6e5256" stroke-width="0.7"/>
<circle cx="850.0" cy="1009.6" r="5.20" fill="#30564f" stroke="#16262a" stroke-width="0.7"/>
<polygon points="879.0,881.5 884.2,886.7 879.0,891.9 873.8,886.7" fill="#b98a2d" stroke="#4b3610" stroke-width="0.7"/>
<rect x="883.8" y="881.5" width="10.4" height="10.4" fill="#23254a" stroke="#0d0e22" stroke-width="0.7"/>
<polygon points="898.7,872.8 903.9,882.4 893.5,882.4" fill="#eea8ae" stroke="#6e5256" stroke-width="0.7"/>
<rect x="893.0" y="890.1" width="10.4" height="10.4" fill="#23254a" stroke="#0d0e22" stroke-width="0.7"/>
<polygon points="908.0,882.2 913.2,891.8 902.8,891.8" fill="#eea8ae" stroke="#6e5256" stroke-width="0.7"/>
<rect x="883.8" y="910.2" width="10.4" height="10.4" fill="#23254a" stroke="#0d0e22" stroke-width="0.7"/>
<polygon points="898.7,912.8 903.9,922.4 893.5,922.4" fill="#eea8ae" stroke="#6e5256" stroke-width="0.7"/>
<polygon points="893.3,939.8 898.5,945.0 893.3,950.2 888.1,945.0" fill="#b98a2d" stroke="#4b3610" stroke-width="0.7"/>
<circle cx="893.3" cy="961.0" r="5.20" fill="#30564f" stroke="#16262a" stroke-width="0.7"/>
<circle cx="893.3" cy="983.0" r="5.20" fill="#30564f" stroke="#16262a" stroke-width="0.7"/>
<circle cx="889.0" cy="1009.6" r="5.20" fill="#30564f" stroke="#16262a" stroke-width="0.7"/>
<polygon points="898.7,1004.8 903.9,1010.0 898.7,1015.2 893.5,1010.0" fill="#b98a2d" stroke="#4b3610" stroke-width="0.7"/>
<rect x="946.4" y="792.2" width="10.4" height="10.4" fill="#23254a" stroke="#0d0e22" stroke-width="0.7"/>
<rect x="946.4" y="810.1" width="10.4" height="10.4" fill="#23254a" stroke="#0d0e22" stroke-width="0.7"/>
<rect x="946.4" y="830.5" width="10.4" height="10.4" fill="#23254a" stroke="#0d0e22" stroke-width="0.7"/>
<polygon points="951.6,847.0 956.8,856.6 946.4,856.6" fill="#eea8ae" stroke="#6e5256" stroke-width="0.7"/>
<polygon points="951.6,869.9 956.8,879.5 946.4,879.5" fill="#eea8ae" stroke="#6e5256" stroke-width="0.7"/>
<polygon points="951.6,910.2 956.8,919.8 946.4,919.8" fill="#eea8ae" stroke="#6e5256" stroke-width="0.7"/>
<polygon points="951.6,979.8 956.8,985.0 951.6,990.2 946.4,985.0" fill="#b98a2d" stroke="#4b3610" stroke-width="0.7"/>
<circle cx="936.8" cy="1009.6" r="5.20" fill="#30564f" stroke="#16262a" stroke-width="0.7"/>
<circle cx="944.2" cy="1009.6" r="5.20" fill="#30564f" stroke="#16262a" stroke-width="0.7"/>
<circle cx="951.6" cy="1009.6" r="5.20" fill="#30564f" stroke="#16262a" stroke-width="0.7"/>
<polygon points="959.7,1004.8 964.9,1010.0 959.7,1015.2 954.5,1010.0" fill="#b98a2d" stroke="#4b3610" stroke-width="0.7"/>
<polygon points="966.6,1004.8 971.8,1010.0 966.6,1015.2 961.4,1010.0" fill="#b98a2d" stroke="#4b3610" stroke-width="0.7"/>
<polygon points="1009.5,693.2 1014.7,702.8 1004.3,702.8" fill="#eea8ae" stroke="#6e5256" stroke-width="0.7"/>
<polygon points="1009.5,711.8 1014.7,721.4 1004.3,721.4" fill="#eea8ae" stroke="#6e5256" stroke-width="0.7"/>
<polygon points="1009.5,733.4 1014.7,743.0 1004.3,743.0" fill="#eea8ae" stroke="#6e5256" stroke-width="0.7"/>
<polygon points="1009.4,810.1 1014.6,815.3 1009.4,820.5 1004.2,815.3" fill="#b98a2d" stroke="#4b3610" stroke-width="0.7"/>
<rect x="1004.2" y="842.8" width="10.4" height="10.4" fill="#23254a" stroke="#0d0e22" stroke-width="0.7"/>
<circle cx="995.4" cy="852.7" r="5.20" fill="#30564f" stroke="#16262a" stroke-width="0.7"/>
<circle cx="1023.6" cy="852.7" r="5.20" fill="#30564f" stroke="#16262a" stroke-width="0.7"/>
<polygon points="1009.4,853.9 1014.6,859.1 1009.4,864.3 1004.2,859.1" fill="#b98a2d" stroke="#4b3610" stroke-width="0.7"/>
<circle cx="1009.4" cy="876.8" r="5.20" fill="#30564f" stroke="#16262a" stroke-width="0.7"/>
<polygon points="1009.4,885.9 1014.6,891.1 1009.4,896.3 1004.2,891.1" fill="#b98a2d" stroke="#4b3610" stroke-width="0.7"/>
<rect x="1004.2" y="899.9" width="10.4" height="10.4" fill="#23254a" stroke="#0d0e22" stroke-width="0.7"/>
<polygon points="1067.2,780.1 1072.4,789.7 1062.0,789.7" fill="#eea8ae" stroke="#6e5256" stroke-width="0.7"/>
<polygon points="1053.2,804.8 1058.4,814.4 1048.0,814.4" fill="#eea8ae" stroke="#6e5256" stroke-width="0.7"/>
<rect x="1062.0" y="801.0" width="10.4" height="10.4" fill="#23254a" stroke="#0d0e22" stroke-width="0.7"/>
<rect x="1076.2" y="808.2" width="10.4" height="10.4" fill="#23254a" stroke="#0d0e22" stroke-width="0.7"/>
<polygon points="1053.2,910.2 1058.4,915.4 1053.2,920.6 1048.0,915.4" fill="#b98a2d" stroke="#4b3610" stroke-width="0.7"/>
<polygon points="1067.2,913.9 1072.4,919.1 1067.2,924.3 1062.0,919.1" fill="#b98a2d" stroke="#4b3610" stroke-width="0.7"/>
<polygon points="1081.4,913.9 1086.6,923.5 1076.2,923.5" fill="#eea8ae" stroke="#6e5256" stroke-width="0.7"/>
<polygon points="1067.2,978.1 1072.4,983.3 1067.2,988.5 1062.0,983.3" fill="#b98a2d" stroke="#4b3610" stroke-width="0.7"/>
<circle cx="1059.8" cy="1009.6" r="5.20" fill="#30564f" stroke="#16262a" stroke-width="0.7"/>
<circle cx="1074.0" cy="1009.6" r="5.20" fill="#30564f" stroke="#16262a" stroke-width="0.7"/>
<rect x="817.0" y="1005.3" width="37.4" height="3.8" fill="#0a0a0a"/>
<rect x="874.8" y="929.1" width="38.2" height="3.8" fill="#0a0a0a"/>
<rect x="932.6" y="924.9" width="38.2" height="3.8" fill="#0a0a0a"/>
<rect x="990.4" y="825.0" width="38.2" height="3.8" fill="#0a0a0a"/>
<rect x="1048.2" y="896.6" width="38.2" height="3.8" fill="#0a0a0a"/>
<line x1="835.60" y1="625.10" x2="1067.20" y2="625.10" stroke="#111" stroke-width="2.7" />
<line x1="835.60" y1="619.90" x2="835.60" y2="630.30" stroke="#111" stroke-width="2.3" stroke-linecap="round"/>
<line x1="1067.20" y1="619.90" x2="1067.20" y2="630.30" stroke="#111" stroke-width="2.3" stroke-linecap="round"/>
<line x1="835.60" y1="651.40" x2="1009.60" y2="651.40" stroke="#111" stroke-width="2.7" />
<line x1="835.60" y1="646.20" x2="835.60" y2="656.60" stroke="#111" stroke-width="2.3" stroke-linecap="round"/>
<line x1="1009.60" y1="646.20" x2="1009.60" y2="656.60" stroke="#111" stroke-width="2.3" stroke-linecap="round"/>
<line x1="1009.00" y1="685.30" x2="1067.20" y2="685.30" stroke="#111" stroke-width="2.7" />
<line x1="1009.00" y1="680.10" x2="1009.00" y2="690.50" stroke="#111" stroke-width="2.3" stroke-linecap="round"/>
<line x1="1067.20" y1="680.10" x2="1067.20" y2="690.50" stroke="#111" stroke-width="2.3" stroke-linecap="round"/>
<line x1="835.50" y1="752.50" x2="951.80" y2="752.50" stroke="#111" stroke-width="2.7" />
<line x1="835.50" y1="747.30" x2="835.50" y2="757.70" stroke="#111" stroke-width="2.3" stroke-linecap="round"/>
<line x1="951.80" y1="747.30" x2="951.80" y2="757.70" stroke="#111" stroke-width="2.3" stroke-linecap="round"/>
<line x1="893.30" y1="784.60" x2="951.80" y2="784.60" stroke="#111" stroke-width="2.7" />
<line x1="893.30" y1="779.40" x2="893.30" y2="789.80" stroke="#111" stroke-width="2.3" stroke-linecap="round"/>
<line x1="951.80" y1="779.40" x2="951.80" y2="789.80" stroke="#111" stroke-width="2.3" stroke-linecap="round"/>
<line x1="835.50" y1="860.80" x2="893.30" y2="860.80" stroke="#111" stroke-width="2.7" />
<line x1="835.50" y1="855.60" x2="835.50" y2="866.00" stroke="#111" stroke-width="2.3" stroke-linecap="round"/>
<line x1="893.30" y1="855.60" x2="893.30" y2="866.00" stroke="#111" stroke-width="2.3" stroke-linecap="round"/>
<text x="913.32" y="616.80" font-size="20.00" textLength="75.43" lengthAdjust="spacingAndGlyphs" fill="#000" ><tspan font-weight="normal" font-style="italic">p</tspan><tspan font-weight="normal" font-style="normal">=0.002</tspan></text>
<text x="886.50" y="645.20" font-size="20.00" textLength="73.08" lengthAdjust="spacingAndGlyphs" fill="#000" ><tspan font-weight="normal" font-style="italic">p</tspan><tspan font-weight="normal" font-style="normal">&lt;0.001</tspan></text>
<text x="1001.51" y="674.90" font-size="20.00" textLength="74.99" lengthAdjust="spacingAndGlyphs" fill="#000" ><tspan font-weight="normal" font-style="italic">p</tspan><tspan font-weight="normal" font-style="normal">=0.010</tspan></text>
<text x="856.51" y="744.60" font-size="20.00" textLength="74.29" lengthAdjust="spacingAndGlyphs" fill="#000" ><tspan font-weight="normal" font-style="italic">p</tspan><tspan font-weight="normal" font-style="normal">=0.050</tspan></text>
<text x="902.41" y="777.70" font-size="20.00" textLength="45.23" lengthAdjust="spacingAndGlyphs" fill="#000" ><tspan font-weight="normal" font-style="italic">p</tspan><tspan font-weight="normal" font-style="normal">=ns</tspan></text>
<text x="842.12" y="854.70" font-size="20.00" textLength="45.73" lengthAdjust="spacingAndGlyphs" fill="#000" ><tspan font-weight="normal" font-style="italic">p</tspan><tspan font-weight="normal" font-style="normal">=ns</tspan></text>
<text x="816.78" y="1039.80" font-size="24.60" textLength="39.72" lengthAdjust="spacingAndGlyphs" fill="#000" stroke="#000" stroke-width="0.2"><tspan font-weight="bold" font-style="normal">0 Gy</tspan></text>
<text x="872.88" y="1039.80" font-size="24.60" textLength="39.72" lengthAdjust="spacingAndGlyphs" fill="#000" stroke="#000" stroke-width="0.2"><tspan font-weight="bold" font-style="normal">0 Gy</tspan></text>
<text x="925.84" y="1039.80" font-size="24.60" textLength="51.66" lengthAdjust="spacingAndGlyphs" fill="#000" stroke="#000" stroke-width="0.2"><tspan font-weight="bold" font-style="normal">20 Gy</tspan></text>
<text x="987.97" y="1039.80" font-size="24.60" textLength="40.13" lengthAdjust="spacingAndGlyphs" fill="#000" stroke="#000" stroke-width="0.2"><tspan font-weight="bold" font-style="normal">0 Gy</tspan></text>
<text x="1041.44" y="1039.80" font-size="24.60" textLength="51.66" lengthAdjust="spacingAndGlyphs" fill="#000" stroke="#000" stroke-width="0.2"><tspan font-weight="bold" font-style="normal">20 Gy</tspan></text>
<text x="800.26" y="1067.60" font-size="23.50" textLength="61.56" lengthAdjust="spacingAndGlyphs" fill="#000" ><tspan font-weight="bold" font-style="normal">Day 7</tspan></text>
<text x="885.56" y="1067.60" font-size="23.50" textLength="74.26" lengthAdjust="spacingAndGlyphs" fill="#000" ><tspan font-weight="bold" font-style="normal">Day 14</tspan></text>
<text x="998.00" y="1067.60" font-size="23.50" textLength="72.53" lengthAdjust="spacingAndGlyphs" fill="#000" ><tspan font-weight="bold" font-style="normal">Day 21</tspan></text>
<text transform="scale(0.9,1)" x="868.93" y="582.90" font-size="34.20" textLength="376.75" lengthAdjust="spacing" fill="#000" ><tspan font-weight="bold" font-style="normal">COL2 quantification</tspan></text>
<text transform="rotate(-90)" x="-923.00" y="748.50" font-size="28.20" textLength="235.07" lengthAdjust="spacingAndGlyphs" fill="#000" ><tspan font-weight="bold" font-style="normal">Positive area (mm²)</tspan></text>
<text x="1113.06" y="1013.00" font-size="27.80" textLength="69.38" lengthAdjust="spacingAndGlyphs" fill="#000" ><tspan font-weight="bold" font-style="normal">Day 7</tspan></text>
<circle cx="1129.4" cy="613.1" r="5.30" fill="#30564f" stroke="#16262a" stroke-width="0.7"/>
<text x="1139.96" y="618.10" font-size="26.60" textLength="77.29" lengthAdjust="spacingAndGlyphs" fill="#000" ><tspan font-weight="normal" font-style="normal">MSC-7</tspan></text>
<polygon points="1129.4,632.2 1134.7,637.5 1129.4,642.8 1124.1,637.5" fill="#b98a2d" stroke="#4b3610" stroke-width="0.7"/>
<text x="1139.95" y="642.30" font-size="26.60" textLength="77.63" lengthAdjust="spacingAndGlyphs" fill="#000" ><tspan font-weight="normal" font-style="normal">MSC-8</tspan></text>
<rect x="1124.1" y="656.7" width="10.6" height="10.6" fill="#23254a" stroke="#0d0e22" stroke-width="0.7"/>
<text x="1139.95" y="666.60" font-size="26.60" textLength="77.73" lengthAdjust="spacingAndGlyphs" fill="#000" ><tspan font-weight="normal" font-style="normal">MSC-9</tspan></text>
<polygon points="1129.4,681.7 1134.7,691.5 1124.1,691.5" fill="#eea8ae" stroke="#6e5256" stroke-width="0.7"/>
<text x="1139.94" y="691.30" font-size="26.60" textLength="92.04" lengthAdjust="spacingAndGlyphs" fill="#000" ><tspan font-weight="normal" font-style="normal">MSC-10</tspan></text>
<rect x="109.7" y="1514.2" width="60.3" height="65.2" fill="#808080"/>
<rect x="170.0" y="1514.2" width="110.4" height="65.2" fill="#b3b3b3"/>
<rect x="280.4" y="1514.2" width="115.7" height="65.2" fill="#e6e6e6"/>
<line x1="170.00" y1="1514.20" x2="170.00" y2="1579.40" stroke="#2a2a2a" stroke-width="1.1" />
<line x1="280.40" y1="1514.20" x2="280.40" y2="1579.40" stroke="#2a2a2a" stroke-width="1.1" />
<line x1="110.50" y1="1401.50" x2="395.50" y2="1401.50" stroke="#9a9a9a" stroke-width="0.9" stroke-dasharray="1.4 1.6"/>
<line x1="110.50" y1="1388.70" x2="395.50" y2="1388.70" stroke="#9a9a9a" stroke-width="0.9" stroke-dasharray="1.4 1.6"/>
<line x1="110.50" y1="1375.90" x2="395.50" y2="1375.90" stroke="#9a9a9a" stroke-width="0.9" stroke-dasharray="1.4 1.6"/>
<line x1="110.50" y1="1363.10" x2="395.50" y2="1363.10" stroke="#9a9a9a" stroke-width="0.9" stroke-dasharray="1.4 1.6"/>
<line x1="110.50" y1="1350.30" x2="395.50" y2="1350.30" stroke="#9a9a9a" stroke-width="0.9" stroke-dasharray="1.4 1.6"/>
<line x1="110.50" y1="1337.50" x2="395.50" y2="1337.50" stroke="#9a9a9a" stroke-width="0.9" stroke-dasharray="1.4 1.6"/>
<line x1="110.50" y1="1324.70" x2="395.50" y2="1324.70" stroke="#9a9a9a" stroke-width="0.9" stroke-dasharray="1.4 1.6"/>
<line x1="110.50" y1="1311.90" x2="395.50" y2="1311.90" stroke="#9a9a9a" stroke-width="0.9" stroke-dasharray="1.4 1.6"/>
<line x1="110.50" y1="1299.10" x2="395.50" y2="1299.10" stroke="#9a9a9a" stroke-width="0.9" stroke-dasharray="1.4 1.6"/>
<line x1="110.50" y1="1286.30" x2="395.50" y2="1286.30" stroke="#9a9a9a" stroke-width="0.9" stroke-dasharray="1.4 1.6"/>
<line x1="110.50" y1="1273.50" x2="395.50" y2="1273.50" stroke="#9a9a9a" stroke-width="0.9" stroke-dasharray="1.4 1.6"/>
<line x1="110.50" y1="1260.70" x2="395.50" y2="1260.70" stroke="#9a9a9a" stroke-width="0.9" stroke-dasharray="1.4 1.6"/>
<line x1="110.50" y1="1247.90" x2="395.50" y2="1247.90" stroke="#9a9a9a" stroke-width="0.9" stroke-dasharray="1.4 1.6"/>
<line x1="110.50" y1="1235.10" x2="395.50" y2="1235.10" stroke="#9a9a9a" stroke-width="0.9" stroke-dasharray="1.4 1.6"/>
<line x1="110.50" y1="1222.30" x2="395.50" y2="1222.30" stroke="#9a9a9a" stroke-width="0.9" stroke-dasharray="1.4 1.6"/>
<line x1="110.50" y1="1209.50" x2="395.50" y2="1209.50" stroke="#9a9a9a" stroke-width="0.9" stroke-dasharray="1.4 1.6"/>
<line x1="110.50" y1="1196.70" x2="395.50" y2="1196.70" stroke="#9a9a9a" stroke-width="0.9" stroke-dasharray="1.4 1.6"/>
<line x1="110.50" y1="1183.90" x2="395.50" y2="1183.90" stroke="#9a9a9a" stroke-width="0.9" stroke-dasharray="1.4 1.6"/>
<line x1="110.50" y1="1171.10" x2="395.50" y2="1171.10" stroke="#9a9a9a" stroke-width="0.9" stroke-dasharray="1.4 1.6"/>
<line x1="110.50" y1="1158.30" x2="395.50" y2="1158.30" stroke="#9a9a9a" stroke-width="0.9" stroke-dasharray="1.4 1.6"/>
<line x1="110.50" y1="1145.50" x2="395.50" y2="1145.50" stroke="#9a9a9a" stroke-width="0.9" stroke-dasharray="1.4 1.6"/>
<line x1="110.50" y1="1495.92" x2="395.50" y2="1495.92" stroke="#9a9a9a" stroke-width="0.9" stroke-dasharray="1.4 1.6"/>
<line x1="110.50" y1="1477.54" x2="395.50" y2="1477.54" stroke="#9a9a9a" stroke-width="0.9" stroke-dasharray="1.4 1.6"/>
<line x1="110.50" y1="1459.16" x2="395.50" y2="1459.16" stroke="#9a9a9a" stroke-width="0.9" stroke-dasharray="1.4 1.6"/>
<line x1="110.50" y1="1440.78" x2="395.50" y2="1440.78" stroke="#9a9a9a" stroke-width="0.9" stroke-dasharray="1.4 1.6"/>
<line x1="110.50" y1="1422.40" x2="395.50" y2="1422.40" stroke="#9a9a9a" stroke-width="0.9" stroke-dasharray="1.4 1.6"/>
<line x1="145.40" y1="1133.60" x2="145.40" y2="1513.70" stroke="#9a9a9a" stroke-width="0.9" stroke-dasharray="1.4 1.6"/>
<line x1="198.80" y1="1133.60" x2="198.80" y2="1513.70" stroke="#9a9a9a" stroke-width="0.9" stroke-dasharray="1.4 1.6"/>
<line x1="253.00" y1="1133.60" x2="253.00" y2="1513.70" stroke="#9a9a9a" stroke-width="0.9" stroke-dasharray="1.4 1.6"/>
<line x1="306.70" y1="1133.60" x2="306.70" y2="1513.70" stroke="#9a9a9a" stroke-width="0.9" stroke-dasharray="1.4 1.6"/>
<line x1="360.20" y1="1133.60" x2="360.20" y2="1513.70" stroke="#9a9a9a" stroke-width="0.9" stroke-dasharray="1.4 1.6"/>
<line x1="145.40" y1="1514.20" x2="145.40" y2="1521.20" stroke="#2a2a2a" stroke-width="1" />
<line x1="198.80" y1="1514.20" x2="198.80" y2="1521.20" stroke="#2a2a2a" stroke-width="1" />
<line x1="253.00" y1="1514.20" x2="253.00" y2="1521.20" stroke="#2a2a2a" stroke-width="1" />
<line x1="306.70" y1="1514.20" x2="306.70" y2="1521.20" stroke="#2a2a2a" stroke-width="1" />
<line x1="360.20" y1="1514.20" x2="360.20" y2="1521.20" stroke="#2a2a2a" stroke-width="1" />
<line x1="101.50" y1="1132.60" x2="396.50" y2="1132.60" stroke="#2a2a2a" stroke-width="1.1" />
<line x1="396.00" y1="1132.60" x2="396.00" y2="1514.20" stroke="#2a2a2a" stroke-width="1.1" />
<line x1="101.50" y1="1514.20" x2="396.50" y2="1514.20" stroke="#1a1a1a" stroke-width="1.3" />
<line x1="109.50" y1="1132.60" x2="109.50" y2="1407.90" stroke="#3a3a3a" stroke-width="1.3" />
<line x1="109.50" y1="1422.40" x2="109.50" y2="1514.20" stroke="#3a3a3a" stroke-width="1.3" />
<line x1="101.50" y1="1401.50" x2="109.50" y2="1401.50" stroke="#2a2a2a" stroke-width="1.2" />
<line x1="101.50" y1="1388.70" x2="109.50" y2="1388.70" stroke="#2a2a2a" stroke-width="1.2" />
<line x1="101.50" y1="1375.90" x2="109.50" y2="1375.90" stroke="#2a2a2a" stroke-width="1.2" />
<line x1="101.50" y1="1363.10" x2="109.50" y2="1363.10" stroke="#2a2a2a" stroke-width="1.2" />
<line x1="101.50" y1="1350.30" x2="109.50" y2="1350.30" stroke="#2a2a2a" stroke-width="1.2" />
<line x1="101.50" y1="1337.50" x2="109.50" y2="1337.50" stroke="#2a2a2a" stroke-width="1.2" />
<line x1="101.50" y1="1324.70" x2="109.50" y2="1324.70" stroke="#2a2a2a" stroke-width="1.2" />
<line x1="101.50" y1="1311.90" x2="109.50" y2="1311.90" stroke="#2a2a2a" stroke-width="1.2" />
<line x1="101.50" y1="1299.10" x2="109.50" y2="1299.10" stroke="#2a2a2a" stroke-width="1.2" />
<line x1="101.50" y1="1286.30" x2="109.50" y2="1286.30" stroke="#2a2a2a" stroke-width="1.2" />
<line x1="101.50" y1="1273.50" x2="109.50" y2="1273.50" stroke="#2a2a2a" stroke-width="1.2" />
<line x1="101.50" y1="1260.70" x2="109.50" y2="1260.70" stroke="#2a2a2a" stroke-width="1.2" />
<line x1="101.50" y1="1247.90" x2="109.50" y2="1247.90" stroke="#2a2a2a" stroke-width="1.2" />
<line x1="101.50" y1="1235.10" x2="109.50" y2="1235.10" stroke="#2a2a2a" stroke-width="1.2" />
<line x1="101.50" y1="1222.30" x2="109.50" y2="1222.30" stroke="#2a2a2a" stroke-width="1.2" />
<line x1="101.50" y1="1209.50" x2="109.50" y2="1209.50" stroke="#2a2a2a" stroke-width="1.2" />
<line x1="101.50" y1="1196.70" x2="109.50" y2="1196.70" stroke="#2a2a2a" stroke-width="1.2" />
<line x1="101.50" y1="1183.90" x2="109.50" y2="1183.90" stroke="#2a2a2a" stroke-width="1.2" />
<line x1="101.50" y1="1171.10" x2="109.50" y2="1171.10" stroke="#2a2a2a" stroke-width="1.2" />
<line x1="101.50" y1="1158.30" x2="109.50" y2="1158.30" stroke="#2a2a2a" stroke-width="1.2" />
<line x1="101.50" y1="1145.50" x2="109.50" y2="1145.50" stroke="#2a2a2a" stroke-width="1.2" />
<line x1="101.50" y1="1132.70" x2="109.50" y2="1132.70" stroke="#2a2a2a" stroke-width="1.2" />
<line x1="101.50" y1="1514.30" x2="109.50" y2="1514.30" stroke="#2a2a2a" stroke-width="1.2" />
<line x1="101.50" y1="1495.92" x2="109.50" y2="1495.92" stroke="#2a2a2a" stroke-width="1.2" />
<line x1="101.50" y1="1477.54" x2="109.50" y2="1477.54" stroke="#2a2a2a" stroke-width="1.2" />
<line x1="101.50" y1="1459.16" x2="109.50" y2="1459.16" stroke="#2a2a2a" stroke-width="1.2" />
<line x1="101.50" y1="1440.78" x2="109.50" y2="1440.78" stroke="#2a2a2a" stroke-width="1.2" />
<line x1="101.50" y1="1422.40" x2="109.50" y2="1422.40" stroke="#2a2a2a" stroke-width="1.2" />
<line x1="104.90" y1="1407.90" x2="114.30" y2="1407.90" stroke="#2a2a2a" stroke-width="1.3" />
<line x1="104.90" y1="1422.40" x2="114.30" y2="1422.40" stroke="#2a2a2a" stroke-width="1.3" />
<text x="54.19" y="1410.00" font-size="34.00" textLength="43.02" lengthAdjust="spacingAndGlyphs" fill="#000" ><tspan font-weight="normal" font-style="normal">100</tspan></text>
<text x="55.19" y="1384.40" font-size="34.00" textLength="41.99" lengthAdjust="spacingAndGlyphs" fill="#000" ><tspan font-weight="normal" font-style="normal">300</tspan></text>
<text x="55.14" y="1358.80" font-size="34.00" textLength="42.04" lengthAdjust="spacingAndGlyphs" fill="#000" ><tspan font-weight="normal" font-style="normal">500</tspan></text>
<text x="54.85" y="1333.20" font-size="34.00" textLength="42.34" lengthAdjust="spacingAndGlyphs" fill="#000" ><tspan font-weight="normal" font-style="normal">700</tspan></text>
<text x="54.96" y="1307.60" font-size="34.00" textLength="42.22" lengthAdjust="spacingAndGlyphs" fill="#000" ><tspan font-weight="normal" font-style="normal">900</tspan></text>
<text x="40.46" y="1282.00" font-size="34.00" textLength="56.74" lengthAdjust="spacingAndGlyphs" fill="#000" ><tspan font-weight="normal" font-style="normal">1100</tspan></text>
<text x="40.46" y="1256.40" font-size="34.00" textLength="56.74" lengthAdjust="spacingAndGlyphs" fill="#000" ><tspan font-weight="normal" font-style="normal">1300</tspan></text>
<text x="40.46" y="1230.80" font-size="34.00" textLength="56.74" lengthAdjust="spacingAndGlyphs" fill="#000" ><tspan font-weight="normal" font-style="normal">1500</tspan></text>
<text x="40.46" y="1205.20" font-size="34.00" textLength="56.74" lengthAdjust="spacingAndGlyphs" fill="#000" ><tspan font-weight="normal" font-style="normal">1700</tspan></text>
<text x="40.46" y="1179.60" font-size="34.00" textLength="56.74" lengthAdjust="spacingAndGlyphs" fill="#000" ><tspan font-weight="normal" font-style="normal">1900</tspan></text>
<text x="41.13" y="1154.00" font-size="34.00" textLength="56.05" lengthAdjust="spacingAndGlyphs" fill="#000" ><tspan font-weight="normal" font-style="normal">2100</tspan></text>
<text x="82.67" y="1523.10" font-size="34.00" textLength="14.66" lengthAdjust="spacingAndGlyphs" fill="#000" ><tspan font-weight="normal" font-style="normal">0</tspan></text>
<text x="68.60" y="1486.34" font-size="34.00" textLength="28.71" lengthAdjust="spacingAndGlyphs" fill="#000" ><tspan font-weight="normal" font-style="normal">20</tspan></text>
<text x="69.32" y="1449.58" font-size="34.00" textLength="27.96" lengthAdjust="spacingAndGlyphs" fill="#000" ><tspan font-weight="normal" font-style="normal">40</tspan></text>
<line x1="164.00" y1="1488.80" x2="396.00" y2="1488.80" stroke="#111" stroke-width="1.4" stroke-dasharray="3.6 2.8"/>
<polygon points="145.4,1422.3 150.6,1431.9 140.2,1431.9" fill="#eea8ae" stroke="#6e5256" stroke-width="0.7"/>
<polygon points="145.4,1449.3 150.6,1458.9 140.2,1458.9" fill="#eea8ae" stroke="#6e5256" stroke-width="0.7"/>
<polygon points="145.4,1479.1 150.6,1488.7 140.2,1488.7" fill="#eea8ae" stroke="#6e5256" stroke-width="0.7"/>
<rect x="126.7" y="1491.6" width="10.4" height="10.4" fill="#23254a" stroke="#0d0e22" stroke-width="0.7"/>
<rect x="140.2" y="1493.6" width="10.4" height="10.4" fill="#23254a" stroke="#0d0e22" stroke-width="0.7"/>
<rect x="153.1" y="1491.6" width="10.4" height="10.4" fill="#23254a" stroke="#0d0e22" stroke-width="0.7"/>
<circle cx="132.6" cy="1514.0" r="5.20" fill="#30564f" stroke="#16262a" stroke-width="0.7"/>
<circle cx="145.4" cy="1514.0" r="5.20" fill="#30564f" stroke="#16262a" stroke-width="0.7"/>
<circle cx="158.3" cy="1514.0" r="5.20" fill="#30564f" stroke="#16262a" stroke-width="0.7"/>
<rect x="180.1" y="1353.0" width="10.4" height="10.4" fill="#23254a" stroke="#0d0e22" stroke-width="0.7"/>
<rect x="180.1" y="1369.2" width="10.4" height="10.4" fill="#23254a" stroke="#0d0e22" stroke-width="0.7"/>
<rect x="193.6" y="1376.0" width="10.4" height="10.4" fill="#23254a" stroke="#0d0e22" stroke-width="0.7"/>
<polygon points="198.8,1354.0 204.0,1363.6 193.6,1363.6" fill="#eea8ae" stroke="#6e5256" stroke-width="0.7"/>
<polygon points="212.4,1347.8 217.6,1357.4 207.2,1357.4" fill="#eea8ae" stroke="#6e5256" stroke-width="0.7"/>
<circle cx="198.8" cy="1406.5" r="5.20" fill="#30564f" stroke="#16262a" stroke-width="0.7"/>
<circle cx="198.8" cy="1476.9" r="5.20" fill="#30564f" stroke="#16262a" stroke-width="0.7"/>
<circle cx="198.8" cy="1495.5" r="5.20" fill="#30564f" stroke="#16262a" stroke-width="0.7"/>
<rect x="247.8" y="1375.3" width="10.4" height="10.4" fill="#23254a" stroke="#0d0e22" stroke-width="0.7"/>
<rect x="260.9" y="1385.1" width="10.4" height="10.4" fill="#23254a" stroke="#0d0e22" stroke-width="0.7"/>
<rect x="247.8" y="1396.3" width="10.4" height="10.4" fill="#23254a" stroke="#0d0e22" stroke-width="0.7"/>
<polygon points="266.1,1370.8 271.3,1380.4 260.9,1380.4" fill="#eea8ae" stroke="#6e5256" stroke-width="0.7"/>
<polygon points="239.4,1387.8 244.6,1397.4 234.2,1397.4" fill="#eea8ae" stroke="#6e5256" stroke-width="0.7"/>
<circle cx="239.4" cy="1514.0" r="5.20" fill="#30564f" stroke="#16262a" stroke-width="0.7"/>
<circle cx="253.0" cy="1506.3" r="5.20" fill="#30564f" stroke="#16262a" stroke-width="0.7"/>
<circle cx="266.1" cy="1514.0" r="5.20" fill="#30564f" stroke="#16262a" stroke-width="0.7"/>
<polygon points="306.5,1208.5 311.7,1218.1 301.3,1218.1" fill="#eea8ae" stroke="#6e5256" stroke-width="0.7"/>
<polygon points="306.7,1313.8 311.9,1323.4 301.5,1323.4" fill="#eea8ae" stroke="#6e5256" stroke-width="0.7"/>
<polygon points="319.6,1307.5 324.8,1317.1 314.4,1317.1" fill="#eea8ae" stroke="#6e5256" stroke-width="0.7"/>
<rect x="288.3" y="1364.1" width="10.4" height="10.4" fill="#23254a" stroke="#0d0e22" stroke-width="0.7"/>
<rect x="301.5" y="1359.1" width="10.4" height="10.4" fill="#23254a" stroke="#0d0e22" stroke-width="0.7"/>
<rect x="314.4" y="1354.0" width="10.4" height="10.4" fill="#23254a" stroke="#0d0e22" stroke-width="0.7"/>
<circle cx="319.6" cy="1372.7" r="5.20" fill="#30564f" stroke="#16262a" stroke-width="0.7"/>
<circle cx="306.7" cy="1378.8" r="5.20" fill="#30564f" stroke="#16262a" stroke-width="0.7"/>
<circle cx="306.7" cy="1394.7" r="5.20" fill="#30564f" stroke="#16262a" stroke-width="0.7"/>
<polygon points="360.2,1333.7 365.4,1343.3 355.0,1343.3" fill="#eea8ae" stroke="#6e5256" stroke-width="0.7"/>
<rect x="342.1" y="1378.3" width="10.4" height="10.4" fill="#23254a" stroke="#0d0e22" stroke-width="0.7"/>
<rect x="348.2" y="1376.0" width="10.4" height="10.4" fill="#23254a" stroke="#0d0e22" stroke-width="0.7"/>
<rect x="361.7" y="1378.3" width="10.4" height="10.4" fill="#23254a" stroke="#0d0e22" stroke-width="0.7"/>
<polygon points="360.2,1379.3 365.4,1388.9 355.0,1388.9" fill="#eea8ae" stroke="#6e5256" stroke-width="0.7"/>
<polygon points="373.7,1379.3 378.9,1388.9 368.5,1388.9" fill="#eea8ae" stroke="#6e5256" stroke-width="0.7"/>
<circle cx="355.0" cy="1514.0" r="5.20" fill="#30564f" stroke="#16262a" stroke-width="0.7"/>
<circle cx="363.5" cy="1514.0" r="5.20" fill="#30564f" stroke="#16262a" stroke-width="0.7"/>
<rect x="128.5" y="1486.5" width="35.5" height="3.8" fill="#0a0a0a"/>
<rect x="181.0" y="1378.2" width="35.4" height="3.8" fill="#0a0a0a"/>
<rect x="235.0" y="1393.8" width="35.5" height="3.8" fill="#0a0a0a"/>
<rect x="288.5" y="1341.1" width="35.5" height="3.8" fill="#0a0a0a"/>
<rect x="342.2" y="1387.7" width="35.5" height="3.8" fill="#0a0a0a"/>
<line x1="145.40" y1="1153.10" x2="360.20" y2="1153.10" stroke="#111" stroke-width="2.7" />
<line x1="145.40" y1="1147.90" x2="145.40" y2="1158.30" stroke="#111" stroke-width="2.3" stroke-linecap="round"/>
<line x1="360.20" y1="1147.90" x2="360.20" y2="1158.30" stroke="#111" stroke-width="2.3" stroke-linecap="round"/>
<line x1="145.40" y1="1177.60" x2="306.70" y2="1177.60" stroke="#111" stroke-width="2.7" />
<line x1="145.40" y1="1172.40" x2="145.40" y2="1182.80" stroke="#111" stroke-width="2.3" stroke-linecap="round"/>
<line x1="306.70" y1="1172.40" x2="306.70" y2="1182.80" stroke="#111" stroke-width="2.3" stroke-linecap="round"/>
<line x1="306.60" y1="1201.60" x2="360.20" y2="1201.60" stroke="#111" stroke-width="2.7" />
<line x1="306.60" y1="1196.40" x2="306.60" y2="1206.80" stroke="#111" stroke-width="2.3" stroke-linecap="round"/>
<line x1="360.20" y1="1196.40" x2="360.20" y2="1206.80" stroke="#111" stroke-width="2.3" stroke-linecap="round"/>
<line x1="145.40" y1="1292.20" x2="253.00" y2="1292.20" stroke="#111" stroke-width="2.7" />
<line x1="145.40" y1="1287.00" x2="145.40" y2="1297.40" stroke="#111" stroke-width="2.3" stroke-linecap="round"/>
<line x1="253.00" y1="1287.00" x2="253.00" y2="1297.40" stroke="#111" stroke-width="2.3" stroke-linecap="round"/>
<line x1="198.60" y1="1319.20" x2="253.00" y2="1319.20" stroke="#111" stroke-width="2.7" />
<line x1="198.60" y1="1314.00" x2="198.60" y2="1324.40" stroke="#111" stroke-width="2.3" stroke-linecap="round"/>
<line x1="253.00" y1="1314.00" x2="253.00" y2="1324.40" stroke="#111" stroke-width="2.3" stroke-linecap="round"/>
<line x1="145.40" y1="1347.30" x2="198.80" y2="1347.30" stroke="#111" stroke-width="2.7" />
<line x1="145.40" y1="1342.10" x2="145.40" y2="1352.50" stroke="#111" stroke-width="2.3" stroke-linecap="round"/>
<line x1="198.80" y1="1342.10" x2="198.80" y2="1352.50" stroke="#111" stroke-width="2.3" stroke-linecap="round"/>
<text x="244.31" y="1147.70" font-size="20.00" textLength="74.26" lengthAdjust="spacingAndGlyphs" fill="#000" ><tspan font-weight="normal" font-style="italic">p</tspan><tspan font-weight="normal" font-style="normal">=0.019</tspan></text>
<text x="189.69" y="1171.80" font-size="20.00" textLength="71.97" lengthAdjust="spacingAndGlyphs" fill="#000" ><tspan font-weight="normal" font-style="italic">p</tspan><tspan font-weight="normal" font-style="normal">&lt;0.001</tspan></text>
<text x="298.90" y="1196.10" font-size="20.00" textLength="73.85" lengthAdjust="spacingAndGlyphs" fill="#000" ><tspan font-weight="normal" font-style="italic">p</tspan><tspan font-weight="normal" font-style="normal">=0.015</tspan></text>
<text x="161.10" y="1284.70" font-size="20.00" textLength="73.21" lengthAdjust="spacingAndGlyphs" fill="#000" ><tspan font-weight="normal" font-style="italic">p</tspan><tspan font-weight="normal" font-style="normal">=0.007</tspan></text>
<text x="205.11" y="1313.50" font-size="20.00" textLength="44.83" lengthAdjust="spacingAndGlyphs" fill="#000" ><tspan font-weight="normal" font-style="italic">p</tspan><tspan font-weight="normal" font-style="normal">=ns</tspan></text>
<text x="135.80" y="1342.30" font-size="20.00" textLength="73.18" lengthAdjust="spacingAndGlyphs" fill="#000" ><tspan font-weight="normal" font-style="italic">p</tspan><tspan font-weight="normal" font-style="normal">&lt;0.001</tspan></text>
<text x="125.58" y="1542.10" font-size="24.60" textLength="39.52" lengthAdjust="spacingAndGlyphs" fill="#000" stroke="#000" stroke-width="0.2"><tspan font-weight="bold" font-style="normal">0 Gy</tspan></text>
<text x="179.48" y="1542.10" font-size="24.60" textLength="39.62" lengthAdjust="spacingAndGlyphs" fill="#000" stroke="#000" stroke-width="0.2"><tspan font-weight="bold" font-style="normal">0 Gy</tspan></text>
<text x="227.16" y="1542.10" font-size="24.60" textLength="50.04" lengthAdjust="spacingAndGlyphs" fill="#000" stroke="#000" stroke-width="0.2"><tspan font-weight="bold" font-style="normal">20 Gy</tspan></text>
<text x="286.88" y="1542.10" font-size="24.60" textLength="39.52" lengthAdjust="spacingAndGlyphs" fill="#000" stroke="#000" stroke-width="0.2"><tspan font-weight="bold" font-style="normal">0 Gy</tspan></text>
<text x="335.94" y="1542.10" font-size="24.60" textLength="51.96" lengthAdjust="spacingAndGlyphs" fill="#000" stroke="#000" stroke-width="0.2"><tspan font-weight="bold" font-style="normal">20 Gy</tspan></text>
<text x="109.00" y="1572.50" font-size="22.50" textLength="59.78" lengthAdjust="spacingAndGlyphs" fill="#000" ><tspan font-weight="bold" font-style="normal">Day 7</tspan></text>
<text x="186.97" y="1572.50" font-size="22.50" textLength="73.65" lengthAdjust="spacingAndGlyphs" fill="#000" ><tspan font-weight="bold" font-style="normal">Day 14</tspan></text>
<text x="297.20" y="1572.50" font-size="22.50" textLength="72.43" lengthAdjust="spacingAndGlyphs" fill="#000" ><tspan font-weight="bold" font-style="normal">Day 21</tspan></text>
<text x="199.93" y="1122.40" font-size="25.60" textLength="102.46" lengthAdjust="spacingAndGlyphs" fill="#000" ><tspan font-weight="bold" font-style="italic">COL2A1</tspan></text>
<text transform="rotate(-90)" x="-1541.24" y="35.60" font-size="28.20" textLength="358.77" lengthAdjust="spacingAndGlyphs" fill="#000" ><tspan font-weight="bold" font-style="normal">mRNA expression relative to</tspan></text>
<text transform="rotate(-90)" x="-1171.21" y="35.60" font-size="28.20" textLength="65.99" lengthAdjust="spacingAndGlyphs" fill="#000" ><tspan font-weight="bold" font-style="italic">ACTB</tspan></text>
<text x="399.60" y="1495.50" font-size="27.60" textLength="47.61" lengthAdjust="spacingAndGlyphs" fill="#000" ><tspan font-weight="normal" font-style="normal">Day 7</tspan></text>
<rect x="532.5" y="1514.6" width="60.2" height="63.7" fill="#808080"/>
<rect x="592.7" y="1514.6" width="110.0" height="63.7" fill="#b3b3b3"/>
<rect x="702.7" y="1514.6" width="115.9" height="63.7" fill="#e6e6e6"/>
<line x1="592.70" y1="1514.60" x2="592.70" y2="1578.30" stroke="#2a2a2a" stroke-width="1.1" />
<line x1="702.70" y1="1514.60" x2="702.70" y2="1578.30" stroke="#2a2a2a" stroke-width="1.1" />
<line x1="533.50" y1="1209.00" x2="818.50" y2="1209.00" stroke="#9a9a9a" stroke-width="0.9" stroke-dasharray="1.4 1.6"/>
<line x1="533.50" y1="1183.60" x2="818.50" y2="1183.60" stroke="#9a9a9a" stroke-width="0.9" stroke-dasharray="1.4 1.6"/>
<line x1="533.50" y1="1158.20" x2="818.50" y2="1158.20" stroke="#9a9a9a" stroke-width="0.9" stroke-dasharray="1.4 1.6"/>
<line x1="533.50" y1="1495.05" x2="818.50" y2="1495.05" stroke="#9a9a9a" stroke-width="0.9" stroke-dasharray="1.4 1.6"/>
<line x1="533.50" y1="1475.50" x2="818.50" y2="1475.50" stroke="#9a9a9a" stroke-width="0.9" stroke-dasharray="1.4 1.6"/>
<line x1="533.50" y1="1455.95" x2="818.50" y2="1455.95" stroke="#9a9a9a" stroke-width="0.9" stroke-dasharray="1.4 1.6"/>
<line x1="533.50" y1="1436.40" x2="818.50" y2="1436.40" stroke="#9a9a9a" stroke-width="0.9" stroke-dasharray="1.4 1.6"/>
<line x1="533.50" y1="1416.85" x2="818.50" y2="1416.85" stroke="#9a9a9a" stroke-width="0.9" stroke-dasharray="1.4 1.6"/>
<line x1="533.50" y1="1397.30" x2="818.50" y2="1397.30" stroke="#9a9a9a" stroke-width="0.9" stroke-dasharray="1.4 1.6"/>
<line x1="533.50" y1="1377.75" x2="818.50" y2="1377.75" stroke="#9a9a9a" stroke-width="0.9" stroke-dasharray="1.4 1.6"/>
<line x1="533.50" y1="1358.20" x2="818.50" y2="1358.20" stroke="#9a9a9a" stroke-width="0.9" stroke-dasharray="1.4 1.6"/>
<line x1="533.50" y1="1338.65" x2="818.50" y2="1338.65" stroke="#9a9a9a" stroke-width="0.9" stroke-dasharray="1.4 1.6"/>
<line x1="533.50" y1="1319.10" x2="818.50" y2="1319.10" stroke="#9a9a9a" stroke-width="0.9" stroke-dasharray="1.4 1.6"/>
<line x1="533.50" y1="1299.55" x2="818.50" y2="1299.55" stroke="#9a9a9a" stroke-width="0.9" stroke-dasharray="1.4 1.6"/>
<line x1="533.50" y1="1280.00" x2="818.50" y2="1280.00" stroke="#9a9a9a" stroke-width="0.9" stroke-dasharray="1.4 1.6"/>
<line x1="533.50" y1="1260.45" x2="818.50" y2="1260.45" stroke="#9a9a9a" stroke-width="0.9" stroke-dasharray="1.4 1.6"/>
<line x1="533.50" y1="1240.90" x2="818.50" y2="1240.90" stroke="#9a9a9a" stroke-width="0.9" stroke-dasharray="1.4 1.6"/>
<line x1="568.20" y1="1134.30" x2="568.20" y2="1514.10" stroke="#9a9a9a" stroke-width="0.9" stroke-dasharray="1.4 1.6"/>
<line x1="621.80" y1="1134.30" x2="621.80" y2="1514.10" stroke="#9a9a9a" stroke-width="0.9" stroke-dasharray="1.4 1.6"/>
<line x1="675.80" y1="1134.30" x2="675.80" y2="1514.10" stroke="#9a9a9a" stroke-width="0.9" stroke-dasharray="1.4 1.6"/>
<line x1="729.80" y1="1134.30" x2="729.80" y2="1514.10" stroke="#9a9a9a" stroke-width="0.9" stroke-dasharray="1.4 1.6"/>
<line x1="783.70" y1="1134.30" x2="783.70" y2="1514.10" stroke="#9a9a9a" stroke-width="0.9" stroke-dasharray="1.4 1.6"/>
<line x1="568.20" y1="1514.60" x2="568.20" y2="1521.60" stroke="#2a2a2a" stroke-width="1" />
<line x1="621.80" y1="1514.60" x2="621.80" y2="1521.60" stroke="#2a2a2a" stroke-width="1" />
<line x1="675.80" y1="1514.60" x2="675.80" y2="1521.60" stroke="#2a2a2a" stroke-width="1" />
<line x1="729.80" y1="1514.60" x2="729.80" y2="1521.60" stroke="#2a2a2a" stroke-width="1" />
<line x1="783.70" y1="1514.60" x2="783.70" y2="1521.60" stroke="#2a2a2a" stroke-width="1" />
<line x1="524.50" y1="1133.30" x2="819.50" y2="1133.30" stroke="#2a2a2a" stroke-width="1.1" />
<line x1="819.00" y1="1133.30" x2="819.00" y2="1514.60" stroke="#2a2a2a" stroke-width="1.1" />
<line x1="524.50" y1="1514.60" x2="819.50" y2="1514.60" stroke="#1a1a1a" stroke-width="1.3" />
<line x1="532.50" y1="1133.30" x2="532.50" y2="1224.00" stroke="#3a3a3a" stroke-width="1.3" />
<line x1="532.50" y1="1240.80" x2="532.50" y2="1514.60" stroke="#3a3a3a" stroke-width="1.3" />
<line x1="524.50" y1="1209.00" x2="532.50" y2="1209.00" stroke="#2a2a2a" stroke-width="1.2" />
<line x1="524.50" y1="1183.60" x2="532.50" y2="1183.60" stroke="#2a2a2a" stroke-width="1.2" />
<line x1="524.50" y1="1158.20" x2="532.50" y2="1158.20" stroke="#2a2a2a" stroke-width="1.2" />
<line x1="524.50" y1="1132.80" x2="532.50" y2="1132.80" stroke="#2a2a2a" stroke-width="1.2" />
<line x1="524.50" y1="1514.60" x2="532.50" y2="1514.60" stroke="#2a2a2a" stroke-width="1.2" />
<line x1="524.50" y1="1495.05" x2="532.50" y2="1495.05" stroke="#2a2a2a" stroke-width="1.2" />
<line x1="524.50" y1="1475.50" x2="532.50" y2="1475.50" stroke="#2a2a2a" stroke-width="1.2" />
<line x1="524.50" y1="1455.95" x2="532.50" y2="1455.95" stroke="#2a2a2a" stroke-width="1.2" />
<line x1="524.50" y1="1436.40" x2="532.50" y2="1436.40" stroke="#2a2a2a" stroke-width="1.2" />
<line x1="524.50" y1="1416.85" x2="532.50" y2="1416.85" stroke="#2a2a2a" stroke-width="1.2" />
<line x1="524.50" y1="1397.30" x2="532.50" y2="1397.30" stroke="#2a2a2a" stroke-width="1.2" />
<line x1="524.50" y1="1377.75" x2="532.50" y2="1377.75" stroke="#2a2a2a" stroke-width="1.2" />
<line x1="524.50" y1="1358.20" x2="532.50" y2="1358.20" stroke="#2a2a2a" stroke-width="1.2" />
<line x1="524.50" y1="1338.65" x2="532.50" y2="1338.65" stroke="#2a2a2a" stroke-width="1.2" />
<line x1="524.50" y1="1319.10" x2="532.50" y2="1319.10" stroke="#2a2a2a" stroke-width="1.2" />
<line x1="524.50" y1="1299.55" x2="532.50" y2="1299.55" stroke="#2a2a2a" stroke-width="1.2" />
<line x1="524.50" y1="1280.00" x2="532.50" y2="1280.00" stroke="#2a2a2a" stroke-width="1.2" />
<line x1="524.50" y1="1260.45" x2="532.50" y2="1260.45" stroke="#2a2a2a" stroke-width="1.2" />
<line x1="524.50" y1="1240.90" x2="532.50" y2="1240.90" stroke="#2a2a2a" stroke-width="1.2" />
<line x1="527.50" y1="1224.00" x2="537.20" y2="1224.00" stroke="#2a2a2a" stroke-width="1.3" />
<line x1="527.50" y1="1240.80" x2="537.20" y2="1240.80" stroke="#2a2a2a" stroke-width="1.3" />
<text x="481.63" y="1220.00" font-size="34.50" textLength="43.08" lengthAdjust="spacingAndGlyphs" fill="#000" ><tspan font-weight="normal" font-style="normal">100</tspan></text>
<text x="481.63" y="1194.60" font-size="34.50" textLength="43.08" lengthAdjust="spacingAndGlyphs" fill="#000" ><tspan font-weight="normal" font-style="normal">150</tspan></text>
<text x="482.32" y="1169.20" font-size="34.50" textLength="42.37" lengthAdjust="spacingAndGlyphs" fill="#000" ><tspan font-weight="normal" font-style="normal">200</tspan></text>
<text x="482.32" y="1143.80" font-size="34.50" textLength="42.37" lengthAdjust="spacingAndGlyphs" fill="#000" ><tspan font-weight="normal" font-style="normal">250</tspan></text>
<text x="506.38" y="1525.40" font-size="34.50" textLength="14.54" lengthAdjust="spacingAndGlyphs" fill="#000" ><tspan font-weight="normal" font-style="normal">0</tspan></text>
<text x="492.02" y="1486.30" font-size="34.50" textLength="28.89" lengthAdjust="spacingAndGlyphs" fill="#000" ><tspan font-weight="normal" font-style="normal">10</tspan></text>
<text x="492.73" y="1447.20" font-size="34.50" textLength="28.16" lengthAdjust="spacingAndGlyphs" fill="#000" ><tspan font-weight="normal" font-style="normal">20</tspan></text>
<text x="493.05" y="1408.10" font-size="34.50" textLength="27.83" lengthAdjust="spacingAndGlyphs" fill="#000" ><tspan font-weight="normal" font-style="normal">30</tspan></text>
<text x="493.43" y="1369.00" font-size="34.50" textLength="27.43" lengthAdjust="spacingAndGlyphs" fill="#000" ><tspan font-weight="normal" font-style="normal">40</tspan></text>
<text x="493.00" y="1329.90" font-size="34.50" textLength="27.88" lengthAdjust="spacingAndGlyphs" fill="#000" ><tspan font-weight="normal" font-style="normal">50</tspan></text>
<text x="492.71" y="1290.80" font-size="34.50" textLength="28.18" lengthAdjust="spacingAndGlyphs" fill="#000" ><tspan font-weight="normal" font-style="normal">60</tspan></text>
<text x="492.70" y="1251.70" font-size="34.50" textLength="28.19" lengthAdjust="spacingAndGlyphs" fill="#000" ><tspan font-weight="normal" font-style="normal">70</tspan></text>
<line x1="585.40" y1="1500.70" x2="819.00" y2="1500.70" stroke="#111" stroke-width="1.4" stroke-dasharray="3.6 2.8"/>
<polygon points="565.0,1467.4 570.2,1477.0 559.8,1477.0" fill="#eea8ae" stroke="#6e5256" stroke-width="0.7"/>
<polygon points="571.5,1469.0 576.7,1478.6 566.3,1478.6" fill="#eea8ae" stroke="#6e5256" stroke-width="0.7"/>
<polygon points="568.2,1485.9 573.4,1495.5 563.0,1495.5" fill="#eea8ae" stroke="#6e5256" stroke-width="0.7"/>
<rect x="555.4" y="1502.1" width="10.4" height="10.4" fill="#23254a" stroke="#0d0e22" stroke-width="0.7"/>
<rect x="567.0" y="1502.1" width="10.4" height="10.4" fill="#23254a" stroke="#0d0e22" stroke-width="0.7"/>
<rect x="576.2" y="1502.1" width="10.4" height="10.4" fill="#23254a" stroke="#0d0e22" stroke-width="0.7"/>
<circle cx="555.0" cy="1513.2" r="5.20" fill="#30564f" stroke="#16262a" stroke-width="0.7"/>
<circle cx="565.6" cy="1513.2" r="5.20" fill="#30564f" stroke="#16262a" stroke-width="0.7"/>
<circle cx="575.5" cy="1513.2" r="5.20" fill="#30564f" stroke="#16262a" stroke-width="0.7"/>
<rect x="616.6" y="1343.8" width="10.4" height="10.4" fill="#23254a" stroke="#0d0e22" stroke-width="0.7"/>
<polygon points="621.8,1381.5 627.0,1391.1 616.6,1391.1" fill="#eea8ae" stroke="#6e5256" stroke-width="0.7"/>
<polygon points="635.0,1401.6 640.2,1411.2 629.8,1411.2" fill="#eea8ae" stroke="#6e5256" stroke-width="0.7"/>
<rect x="603.3" y="1403.3" width="10.4" height="10.4" fill="#23254a" stroke="#0d0e22" stroke-width="0.7"/>
<rect x="616.6" y="1414.8" width="10.4" height="10.4" fill="#23254a" stroke="#0d0e22" stroke-width="0.7"/>
<circle cx="621.8" cy="1459.7" r="5.20" fill="#30564f" stroke="#16262a" stroke-width="0.7"/>
<circle cx="621.8" cy="1475.2" r="5.20" fill="#30564f" stroke="#16262a" stroke-width="0.7"/>
<circle cx="621.8" cy="1484.5" r="5.20" fill="#30564f" stroke="#16262a" stroke-width="0.7"/>
<polygon points="675.6,1408.2 680.8,1417.8 670.4,1417.8" fill="#eea8ae" stroke="#6e5256" stroke-width="0.7"/>
<rect x="670.4" y="1419.5" width="10.4" height="10.4" fill="#23254a" stroke="#0d0e22" stroke-width="0.7"/>
<polygon points="675.6,1459.5 680.8,1469.1 670.4,1469.1" fill="#eea8ae" stroke="#6e5256" stroke-width="0.7"/>
<rect x="657.2" y="1473.3" width="10.4" height="10.4" fill="#23254a" stroke="#0d0e22" stroke-width="0.7"/>
<rect x="683.6" y="1479.9" width="10.4" height="10.4" fill="#23254a" stroke="#0d0e22" stroke-width="0.7"/>
<circle cx="675.6" cy="1500.0" r="5.20" fill="#30564f" stroke="#16262a" stroke-width="0.7"/>
<circle cx="662.4" cy="1511.0" r="5.20" fill="#30564f" stroke="#16262a" stroke-width="0.7"/>
<circle cx="688.8" cy="1511.0" r="5.20" fill="#30564f" stroke="#16262a" stroke-width="0.7"/>
<polygon points="729.8,1189.9 735.0,1199.5 724.6,1199.5" fill="#eea8ae" stroke="#6e5256" stroke-width="0.7"/>
<polygon points="729.8,1293.0 735.0,1302.6 724.6,1302.6" fill="#eea8ae" stroke="#6e5256" stroke-width="0.7"/>
<polygon points="716.0,1341.2 721.2,1350.8 710.8,1350.8" fill="#eea8ae" stroke="#6e5256" stroke-width="0.7"/>
<rect x="737.2" y="1349.4" width="10.4" height="10.4" fill="#23254a" stroke="#0d0e22" stroke-width="0.7"/>
<rect x="724.6" y="1385.8" width="10.4" height="10.4" fill="#23254a" stroke="#0d0e22" stroke-width="0.7"/>
<rect x="724.6" y="1400.6" width="10.4" height="10.4" fill="#23254a" stroke="#0d0e22" stroke-width="0.7"/>
<circle cx="729.8" cy="1452.1" r="5.20" fill="#30564f" stroke="#16262a" stroke-width="0.7"/>
<circle cx="729.8" cy="1463.0" r="5.20" fill="#30564f" stroke="#16262a" stroke-width="0.7"/>
<circle cx="729.8" cy="1480.2" r="5.20" fill="#30564f" stroke="#16262a" stroke-width="0.7"/>
<polygon points="783.7,1341.2 788.9,1350.8 778.5,1350.8" fill="#eea8ae" stroke="#6e5256" stroke-width="0.7"/>
<polygon points="783.7,1365.9 788.9,1375.5 778.5,1375.5" fill="#eea8ae" stroke="#6e5256" stroke-width="0.7"/>
<polygon points="796.2,1443.6 801.4,1453.2 791.0,1453.2" fill="#eea8ae" stroke="#6e5256" stroke-width="0.7"/>
<rect x="765.3" y="1449.2" width="10.4" height="10.4" fill="#23254a" stroke="#0d0e22" stroke-width="0.7"/>
<rect x="778.5" y="1452.5" width="10.4" height="10.4" fill="#23254a" stroke="#0d0e22" stroke-width="0.7"/>
<rect x="778.5" y="1467.8" width="10.4" height="10.4" fill="#23254a" stroke="#0d0e22" stroke-width="0.7"/>
<circle cx="776.4" cy="1511.6" r="5.20" fill="#30564f" stroke="#16262a" stroke-width="0.7"/>
<circle cx="789.6" cy="1511.6" r="5.20" fill="#30564f" stroke="#16262a" stroke-width="0.7"/>
<rect x="550.7" y="1498.1" width="34.7" height="3.8" fill="#0a0a0a"/>
<rect x="604.6" y="1418.8" width="34.7" height="3.8" fill="#0a0a0a"/>
<rect x="658.1" y="1467.7" width="35.4" height="3.8" fill="#0a0a0a"/>
<rect x="711.0" y="1353.4" width="34.7" height="3.8" fill="#0a0a0a"/>
<rect x="766.2" y="1452.5" width="34.7" height="3.8" fill="#0a0a0a"/>
<line x1="568.20" y1="1151.20" x2="783.70" y2="1151.20" stroke="#111" stroke-width="2.7" />
<line x1="568.20" y1="1146.00" x2="568.20" y2="1156.40" stroke="#111" stroke-width="2.3" stroke-linecap="round"/>
<line x1="783.70" y1="1146.00" x2="783.70" y2="1156.40" stroke="#111" stroke-width="2.3" stroke-linecap="round"/>
<line x1="729.80" y1="1172.00" x2="783.70" y2="1172.00" stroke="#111" stroke-width="2.7" />
<line x1="729.80" y1="1166.80" x2="729.80" y2="1177.20" stroke="#111" stroke-width="2.3" stroke-linecap="round"/>
<line x1="783.70" y1="1166.80" x2="783.70" y2="1177.20" stroke="#111" stroke-width="2.3" stroke-linecap="round"/>
<line x1="568.20" y1="1183.40" x2="729.80" y2="1183.40" stroke="#111" stroke-width="2.7" />
<line x1="568.20" y1="1178.20" x2="568.20" y2="1188.60" stroke="#111" stroke-width="2.3" stroke-linecap="round"/>
<line x1="729.80" y1="1178.20" x2="729.80" y2="1188.60" stroke="#111" stroke-width="2.3" stroke-linecap="round"/>
<line x1="568.20" y1="1270.10" x2="676.30" y2="1270.10" stroke="#111" stroke-width="2.7" />
<line x1="568.20" y1="1264.90" x2="568.20" y2="1275.30" stroke="#111" stroke-width="2.3" stroke-linecap="round"/>
<line x1="676.30" y1="1264.90" x2="676.30" y2="1275.30" stroke="#111" stroke-width="2.3" stroke-linecap="round"/>
<line x1="621.80" y1="1302.50" x2="676.30" y2="1302.50" stroke="#111" stroke-width="2.7" />
<line x1="621.80" y1="1297.30" x2="621.80" y2="1307.70" stroke="#111" stroke-width="2.3" stroke-linecap="round"/>
<line x1="676.30" y1="1297.30" x2="676.30" y2="1307.70" stroke="#111" stroke-width="2.3" stroke-linecap="round"/>
<line x1="568.20" y1="1335.20" x2="621.80" y2="1335.20" stroke="#111" stroke-width="2.7" />
<line x1="568.20" y1="1330.00" x2="568.20" y2="1340.40" stroke="#111" stroke-width="2.3" stroke-linecap="round"/>
<line x1="621.80" y1="1330.00" x2="621.80" y2="1340.40" stroke="#111" stroke-width="2.3" stroke-linecap="round"/>
<text x="638.10" y="1146.20" font-size="20.00" textLength="73.18" lengthAdjust="spacingAndGlyphs" fill="#000" ><tspan font-weight="normal" font-style="italic">p</tspan><tspan font-weight="normal" font-style="normal">&lt;0.001</tspan></text>
<text x="719.70" y="1168.60" font-size="20.00" textLength="73.28" lengthAdjust="spacingAndGlyphs" fill="#000" ><tspan font-weight="normal" font-style="italic">p</tspan><tspan font-weight="normal" font-style="normal">=0.001</tspan></text>
<text x="614.71" y="1176.60" font-size="20.00" textLength="74.19" lengthAdjust="spacingAndGlyphs" fill="#000" ><tspan font-weight="normal" font-style="italic">p</tspan><tspan font-weight="normal" font-style="normal">&lt;0.001</tspan></text>
<text x="583.61" y="1262.50" font-size="20.00" textLength="73.89" lengthAdjust="spacingAndGlyphs" fill="#000" ><tspan font-weight="normal" font-style="italic">p</tspan><tspan font-weight="normal" font-style="normal">&lt;0.001</tspan></text>
<text x="613.01" y="1296.50" font-size="20.00" textLength="74.22" lengthAdjust="spacingAndGlyphs" fill="#000" ><tspan font-weight="normal" font-style="italic">p</tspan><tspan font-weight="normal" font-style="normal">=0.007</tspan></text>
<text x="557.21" y="1328.00" font-size="20.00" textLength="74.49" lengthAdjust="spacingAndGlyphs" fill="#000" ><tspan font-weight="normal" font-style="italic">p</tspan><tspan font-weight="normal" font-style="normal">&lt;0.001</tspan></text>
<text x="552.68" y="1541.30" font-size="24.60" textLength="39.42" lengthAdjust="spacingAndGlyphs" fill="#000" stroke="#000" stroke-width="0.2"><tspan font-weight="bold" font-style="normal">0 Gy</tspan></text>
<text x="606.18" y="1541.30" font-size="24.60" textLength="39.52" lengthAdjust="spacingAndGlyphs" fill="#000" stroke="#000" stroke-width="0.2"><tspan font-weight="bold" font-style="normal">0 Gy</tspan></text>
<text x="656.46" y="1541.30" font-size="24.60" textLength="50.64" lengthAdjust="spacingAndGlyphs" fill="#000" stroke="#000" stroke-width="0.2"><tspan font-weight="bold" font-style="normal">20 Gy</tspan></text>
<text x="710.23" y="1541.30" font-size="24.60" textLength="42.17" lengthAdjust="spacingAndGlyphs" fill="#000" stroke="#000" stroke-width="0.2"><tspan font-weight="bold" font-style="normal">0 Gy</tspan></text>
<text x="763.25" y="1541.30" font-size="24.60" textLength="51.25" lengthAdjust="spacingAndGlyphs" fill="#000" stroke="#000" stroke-width="0.2"><tspan font-weight="bold" font-style="normal">20 Gy</tspan></text>
<text x="531.99" y="1572.70" font-size="22.50" textLength="60.41" lengthAdjust="spacingAndGlyphs" fill="#000" ><tspan font-weight="bold" font-style="normal">Day 7</tspan></text>
<text x="611.28" y="1572.70" font-size="22.50" textLength="73.34" lengthAdjust="spacingAndGlyphs" fill="#000" ><tspan font-weight="bold" font-style="normal">Day 14</tspan></text>
<text x="718.69" y="1572.70" font-size="22.50" textLength="72.94" lengthAdjust="spacingAndGlyphs" fill="#000" ><tspan font-weight="bold" font-style="normal">Day 21</tspan></text>
<text x="639.81" y="1122.40" font-size="25.60" textLength="72.36" lengthAdjust="spacingAndGlyphs" fill="#000" ><tspan font-weight="bold" font-style="italic">ACAN</tspan></text>
<text transform="rotate(-90)" x="-1527.98" y="478.50" font-size="28.20" textLength="347.38" lengthAdjust="spacingAndGlyphs" fill="#000" ><tspan font-weight="bold" font-style="normal">mRNA expression relative to</tspan></text>
<text transform="rotate(-90)" x="-1168.23" y="478.50" font-size="28.20" textLength="62.98" lengthAdjust="spacingAndGlyphs" fill="#000" ><tspan font-weight="bold" font-style="italic">ACTB</tspan></text>
<text x="820.28" y="1505.00" font-size="27.60" textLength="45.29" lengthAdjust="spacingAndGlyphs" fill="#000" ><tspan font-weight="normal" font-style="normal">Day 7</tspan></text>
<rect x="960.0" y="1512.8" width="60.0" height="64.8" fill="#808080"/>
<rect x="1020.0" y="1512.8" width="110.7" height="64.8" fill="#b3b3b3"/>
<rect x="1130.7" y="1512.8" width="115.3" height="64.8" fill="#e6e6e6"/>
<line x1="1020.00" y1="1512.80" x2="1020.00" y2="1577.60" stroke="#2a2a2a" stroke-width="1.1" />
<line x1="1130.70" y1="1512.80" x2="1130.70" y2="1577.60" stroke="#2a2a2a" stroke-width="1.1" />
<line x1="960.10" y1="1493.73" x2="1245.00" y2="1493.73" stroke="#9a9a9a" stroke-width="0.9" stroke-dasharray="1.4 1.6"/>
<line x1="960.10" y1="1474.67" x2="1245.00" y2="1474.67" stroke="#9a9a9a" stroke-width="0.9" stroke-dasharray="1.4 1.6"/>
<line x1="960.10" y1="1455.61" x2="1245.00" y2="1455.61" stroke="#9a9a9a" stroke-width="0.9" stroke-dasharray="1.4 1.6"/>
<line x1="960.10" y1="1436.54" x2="1245.00" y2="1436.54" stroke="#9a9a9a" stroke-width="0.9" stroke-dasharray="1.4 1.6"/>
<line x1="960.10" y1="1417.47" x2="1245.00" y2="1417.47" stroke="#9a9a9a" stroke-width="0.9" stroke-dasharray="1.4 1.6"/>
<line x1="960.10" y1="1398.41" x2="1245.00" y2="1398.41" stroke="#9a9a9a" stroke-width="0.9" stroke-dasharray="1.4 1.6"/>
<line x1="960.10" y1="1379.35" x2="1245.00" y2="1379.35" stroke="#9a9a9a" stroke-width="0.9" stroke-dasharray="1.4 1.6"/>
<line x1="960.10" y1="1360.28" x2="1245.00" y2="1360.28" stroke="#9a9a9a" stroke-width="0.9" stroke-dasharray="1.4 1.6"/>
<line x1="960.10" y1="1341.21" x2="1245.00" y2="1341.21" stroke="#9a9a9a" stroke-width="0.9" stroke-dasharray="1.4 1.6"/>
<line x1="960.10" y1="1322.15" x2="1245.00" y2="1322.15" stroke="#9a9a9a" stroke-width="0.9" stroke-dasharray="1.4 1.6"/>
<line x1="960.10" y1="1303.09" x2="1245.00" y2="1303.09" stroke="#9a9a9a" stroke-width="0.9" stroke-dasharray="1.4 1.6"/>
<line x1="960.10" y1="1284.02" x2="1245.00" y2="1284.02" stroke="#9a9a9a" stroke-width="0.9" stroke-dasharray="1.4 1.6"/>
<line x1="960.10" y1="1264.95" x2="1245.00" y2="1264.95" stroke="#9a9a9a" stroke-width="0.9" stroke-dasharray="1.4 1.6"/>
<line x1="960.10" y1="1245.89" x2="1245.00" y2="1245.89" stroke="#9a9a9a" stroke-width="0.9" stroke-dasharray="1.4 1.6"/>
<line x1="960.10" y1="1226.82" x2="1245.00" y2="1226.82" stroke="#9a9a9a" stroke-width="0.9" stroke-dasharray="1.4 1.6"/>
<line x1="960.10" y1="1207.76" x2="1245.00" y2="1207.76" stroke="#9a9a9a" stroke-width="0.9" stroke-dasharray="1.4 1.6"/>
<line x1="960.10" y1="1188.69" x2="1245.00" y2="1188.69" stroke="#9a9a9a" stroke-width="0.9" stroke-dasharray="1.4 1.6"/>
<line x1="960.10" y1="1169.63" x2="1245.00" y2="1169.63" stroke="#9a9a9a" stroke-width="0.9" stroke-dasharray="1.4 1.6"/>
<line x1="960.10" y1="1150.57" x2="1245.00" y2="1150.57" stroke="#9a9a9a" stroke-width="0.9" stroke-dasharray="1.4 1.6"/>
<line x1="994.20" y1="1132.40" x2="994.20" y2="1512.30" stroke="#9a9a9a" stroke-width="0.9" stroke-dasharray="1.4 1.6"/>
<line x1="1048.90" y1="1132.40" x2="1048.90" y2="1512.30" stroke="#9a9a9a" stroke-width="0.9" stroke-dasharray="1.4 1.6"/>
<line x1="1101.90" y1="1132.40" x2="1101.90" y2="1512.30" stroke="#9a9a9a" stroke-width="0.9" stroke-dasharray="1.4 1.6"/>
<line x1="1155.50" y1="1132.40" x2="1155.50" y2="1512.30" stroke="#9a9a9a" stroke-width="0.9" stroke-dasharray="1.4 1.6"/>
<line x1="1209.50" y1="1132.40" x2="1209.50" y2="1512.30" stroke="#9a9a9a" stroke-width="0.9" stroke-dasharray="1.4 1.6"/>
<line x1="994.20" y1="1512.80" x2="994.20" y2="1519.80" stroke="#2a2a2a" stroke-width="1" />
<line x1="1048.90" y1="1512.80" x2="1048.90" y2="1519.80" stroke="#2a2a2a" stroke-width="1" />
<line x1="1101.90" y1="1512.80" x2="1101.90" y2="1519.80" stroke="#2a2a2a" stroke-width="1" />
<line x1="1155.50" y1="1512.80" x2="1155.50" y2="1519.80" stroke="#2a2a2a" stroke-width="1" />
<line x1="1209.50" y1="1512.80" x2="1209.50" y2="1519.80" stroke="#2a2a2a" stroke-width="1" />
<line x1="951.10" y1="1131.40" x2="1246.00" y2="1131.40" stroke="#2a2a2a" stroke-width="1.1" />
<line x1="1245.50" y1="1131.40" x2="1245.50" y2="1512.80" stroke="#2a2a2a" stroke-width="1.1" />
<line x1="951.10" y1="1512.80" x2="1246.00" y2="1512.80" stroke="#1a1a1a" stroke-width="1.3" />
<line x1="959.10" y1="1131.40" x2="959.10" y2="1512.80" stroke="#3a3a3a" stroke-width="1.3" />
<line x1="951.10" y1="1512.80" x2="959.10" y2="1512.80" stroke="#2a2a2a" stroke-width="1.2" />
<line x1="951.10" y1="1493.73" x2="959.10" y2="1493.73" stroke="#2a2a2a" stroke-width="1.2" />
<line x1="951.10" y1="1474.67" x2="959.10" y2="1474.67" stroke="#2a2a2a" stroke-width="1.2" />
<line x1="951.10" y1="1455.61" x2="959.10" y2="1455.61" stroke="#2a2a2a" stroke-width="1.2" />
<line x1="951.10" y1="1436.54" x2="959.10" y2="1436.54" stroke="#2a2a2a" stroke-width="1.2" />
<line x1="951.10" y1="1417.47" x2="959.10" y2="1417.47" stroke="#2a2a2a" stroke-width="1.2" />
<line x1="951.10" y1="1398.41" x2="959.10" y2="1398.41" stroke="#2a2a2a" stroke-width="1.2" />
<line x1="951.10" y1="1379.35" x2="959.10" y2="1379.35" stroke="#2a2a2a" stroke-width="1.2" />
<line x1="951.10" y1="1360.28" x2="959.10" y2="1360.28" stroke="#2a2a2a" stroke-width="1.2" />
<line x1="951.10" y1="1341.21" x2="959.10" y2="1341.21" stroke="#2a2a2a" stroke-width="1.2" />
<line x1="951.10" y1="1322.15" x2="959.10" y2="1322.15" stroke="#2a2a2a" stroke-width="1.2" />
<line x1="951.10" y1="1303.09" x2="959.10" y2="1303.09" stroke="#2a2a2a" stroke-width="1.2" />
<line x1="951.10" y1="1284.02" x2="959.10" y2="1284.02" stroke="#2a2a2a" stroke-width="1.2" />
<line x1="951.10" y1="1264.95" x2="959.10" y2="1264.95" stroke="#2a2a2a" stroke-width="1.2" />
<line x1="951.10" y1="1245.89" x2="959.10" y2="1245.89" stroke="#2a2a2a" stroke-width="1.2" />
<line x1="951.10" y1="1226.82" x2="959.10" y2="1226.82" stroke="#2a2a2a" stroke-width="1.2" />
<line x1="951.10" y1="1207.76" x2="959.10" y2="1207.76" stroke="#2a2a2a" stroke-width="1.2" />
<line x1="951.10" y1="1188.69" x2="959.10" y2="1188.69" stroke="#2a2a2a" stroke-width="1.2" />
<line x1="951.10" y1="1169.63" x2="959.10" y2="1169.63" stroke="#2a2a2a" stroke-width="1.2" />
<line x1="951.10" y1="1150.57" x2="959.10" y2="1150.57" stroke="#2a2a2a" stroke-width="1.2" />
<line x1="951.10" y1="1131.50" x2="959.10" y2="1131.50" stroke="#2a2a2a" stroke-width="1.2" />
<text x="911.48" y="1521.60" font-size="35.00" textLength="36.45" lengthAdjust="spacingAndGlyphs" fill="#000" ><tspan font-weight="normal" font-style="normal">0.0</tspan></text>
<text x="910.44" y="1483.47" font-size="35.00" textLength="37.51" lengthAdjust="spacingAndGlyphs" fill="#000" ><tspan font-weight="normal" font-style="normal">1.0</tspan></text>
<text x="911.17" y="1445.34" font-size="35.00" textLength="36.76" lengthAdjust="spacingAndGlyphs" fill="#000" ><tspan font-weight="normal" font-style="normal">2.0</tspan></text>
<text x="911.50" y="1407.21" font-size="35.00" textLength="36.42" lengthAdjust="spacingAndGlyphs" fill="#000" ><tspan font-weight="normal" font-style="normal">3.0</tspan></text>
<text x="911.91" y="1369.08" font-size="35.00" textLength="36.01" lengthAdjust="spacingAndGlyphs" fill="#000" ><tspan font-weight="normal" font-style="normal">4.0</tspan></text>
<text x="911.45" y="1330.95" font-size="35.00" textLength="36.48" lengthAdjust="spacingAndGlyphs" fill="#000" ><tspan font-weight="normal" font-style="normal">5.0</tspan></text>
<text x="911.16" y="1292.82" font-size="35.00" textLength="36.78" lengthAdjust="spacingAndGlyphs" fill="#000" ><tspan font-weight="normal" font-style="normal">6.0</tspan></text>
<text x="911.14" y="1254.69" font-size="35.00" textLength="36.79" lengthAdjust="spacingAndGlyphs" fill="#000" ><tspan font-weight="normal" font-style="normal">7.0</tspan></text>
<text x="911.36" y="1216.56" font-size="35.00" textLength="36.57" lengthAdjust="spacingAndGlyphs" fill="#000" ><tspan font-weight="normal" font-style="normal">8.0</tspan></text>
<text x="911.26" y="1178.43" font-size="35.00" textLength="36.67" lengthAdjust="spacingAndGlyphs" fill="#000" ><tspan font-weight="normal" font-style="normal">9.0</tspan></text>
<text x="902.67" y="1140.30" font-size="35.00" textLength="46.77" lengthAdjust="spacingAndGlyphs" fill="#000" ><tspan font-weight="normal" font-style="normal">10.0</tspan></text>
<line x1="1012.40" y1="1438.20" x2="1245.50" y2="1438.20" stroke="#111" stroke-width="1.4" stroke-dasharray="3.6 2.8"/>
<polygon points="982.0,1391.6 987.2,1401.2 976.8,1401.2" fill="#eea8ae" stroke="#6e5256" stroke-width="0.7"/>
<polygon points="994.9,1399.8 1000.1,1409.4 989.7,1409.4" fill="#eea8ae" stroke="#6e5256" stroke-width="0.7"/>
<circle cx="994.9" cy="1435.2" r="5.20" fill="#30564f" stroke="#16262a" stroke-width="0.7"/>
<circle cx="1008.1" cy="1427.0" r="5.20" fill="#30564f" stroke="#16262a" stroke-width="0.7"/>
<polygon points="982.0,1436.6 987.2,1446.2 976.8,1446.2" fill="#eea8ae" stroke="#6e5256" stroke-width="0.7"/>
<rect x="1002.9" y="1438.3" width="10.4" height="10.4" fill="#23254a" stroke="#0d0e22" stroke-width="0.7"/>
<rect x="989.7" y="1457.2" width="10.4" height="10.4" fill="#23254a" stroke="#0d0e22" stroke-width="0.7"/>
<rect x="1002.9" y="1458.2" width="10.4" height="10.4" fill="#23254a" stroke="#0d0e22" stroke-width="0.7"/>
<circle cx="982.0" cy="1472.3" r="5.20" fill="#30564f" stroke="#16262a" stroke-width="0.7"/>
<circle cx="1048.2" cy="1329.2" r="5.20" fill="#30564f" stroke="#16262a" stroke-width="0.7"/>
<circle cx="1048.2" cy="1355.7" r="5.20" fill="#30564f" stroke="#16262a" stroke-width="0.7"/>
<rect x="1043.0" y="1370.1" width="10.4" height="10.4" fill="#23254a" stroke="#0d0e22" stroke-width="0.7"/>
<circle cx="1048.2" cy="1406.1" r="5.20" fill="#30564f" stroke="#16262a" stroke-width="0.7"/>
<polygon points="1035.0,1412.5 1040.2,1422.1 1029.8,1422.1" fill="#eea8ae" stroke="#6e5256" stroke-width="0.7"/>
<polygon points="1048.2,1421.4 1053.4,1431.0 1043.0,1431.0" fill="#eea8ae" stroke="#6e5256" stroke-width="0.7"/>
<rect x="1056.3" y="1418.4" width="10.4" height="10.4" fill="#23254a" stroke="#0d0e22" stroke-width="0.7"/>
<rect x="1043.0" y="1441.3" width="10.4" height="10.4" fill="#23254a" stroke="#0d0e22" stroke-width="0.7"/>
<circle cx="1101.9" cy="1389.5" r="5.20" fill="#30564f" stroke="#16262a" stroke-width="0.7"/>
<polygon points="1101.9,1395.2 1107.1,1404.8 1096.7,1404.8" fill="#eea8ae" stroke="#6e5256" stroke-width="0.7"/>
<polygon points="1115.1,1431.7 1120.3,1441.3 1109.9,1441.3" fill="#eea8ae" stroke="#6e5256" stroke-width="0.7"/>
<rect x="1096.7" y="1439.0" width="10.4" height="10.4" fill="#23254a" stroke="#0d0e22" stroke-width="0.7"/>
<rect x="1083.4" y="1461.5" width="10.4" height="10.4" fill="#23254a" stroke="#0d0e22" stroke-width="0.7"/>
<rect x="1109.9" y="1463.1" width="10.4" height="10.4" fill="#23254a" stroke="#0d0e22" stroke-width="0.7"/>
<circle cx="1101.9" cy="1469.7" r="5.20" fill="#30564f" stroke="#16262a" stroke-width="0.7"/>
<circle cx="1101.9" cy="1485.6" r="5.20" fill="#30564f" stroke="#16262a" stroke-width="0.7"/>
<polygon points="1155.5,1233.8 1160.7,1243.4 1150.3,1243.4" fill="#eea8ae" stroke="#6e5256" stroke-width="0.7"/>
<circle cx="1155.5" cy="1255.0" r="5.20" fill="#30564f" stroke="#16262a" stroke-width="0.7"/>
<polygon points="1155.5,1380.3 1160.7,1389.9 1150.3,1389.9" fill="#eea8ae" stroke="#6e5256" stroke-width="0.7"/>
<circle cx="1155.5" cy="1395.1" r="5.20" fill="#30564f" stroke="#16262a" stroke-width="0.7"/>
<rect x="1150.3" y="1403.5" width="10.4" height="10.4" fill="#23254a" stroke="#0d0e22" stroke-width="0.7"/>
<rect x="1137.1" y="1413.4" width="10.4" height="10.4" fill="#23254a" stroke="#0d0e22" stroke-width="0.7"/>
<rect x="1163.6" y="1415.1" width="10.4" height="10.4" fill="#23254a" stroke="#0d0e22" stroke-width="0.7"/>
<polygon points="1155.5,1420.1 1160.7,1429.7 1150.3,1429.7" fill="#eea8ae" stroke="#6e5256" stroke-width="0.7"/>
<circle cx="1155.5" cy="1446.5" r="5.20" fill="#30564f" stroke="#16262a" stroke-width="0.7"/>
<polygon points="1196.9,1412.5 1202.1,1422.1 1191.7,1422.1" fill="#eea8ae" stroke="#6e5256" stroke-width="0.7"/>
<polygon points="1222.8,1420.7 1228.0,1430.3 1217.6,1430.3" fill="#eea8ae" stroke="#6e5256" stroke-width="0.7"/>
<polygon points="1222.8,1439.9 1228.0,1449.5 1217.6,1449.5" fill="#eea8ae" stroke="#6e5256" stroke-width="0.7"/>
<rect x="1191.7" y="1448.2" width="10.4" height="10.4" fill="#23254a" stroke="#0d0e22" stroke-width="0.7"/>
<rect x="1191.7" y="1464.8" width="10.4" height="10.4" fill="#23254a" stroke="#0d0e22" stroke-width="0.7"/>
<rect x="1217.6" y="1463.1" width="10.4" height="10.4" fill="#23254a" stroke="#0d0e22" stroke-width="0.7"/>
<circle cx="1222.8" cy="1489.9" r="5.20" fill="#30564f" stroke="#16262a" stroke-width="0.7"/>
<circle cx="1196.9" cy="1498.8" r="5.20" fill="#30564f" stroke="#16262a" stroke-width="0.7"/>
<rect x="977.0" y="1436.3" width="35.4" height="3.8" fill="#0a0a0a"/>
<rect x="1031.3" y="1397.5" width="34.8" height="3.8" fill="#0a0a0a"/>
<rect x="1084.6" y="1440.6" width="34.8" height="3.8" fill="#0a0a0a"/>
<rect x="1138.3" y="1375.0" width="34.7" height="3.8" fill="#0a0a0a"/>
<rect x="1192.0" y="1460.5" width="35.0" height="3.8" fill="#0a0a0a"/>
<line x1="994.20" y1="1168.80" x2="1209.50" y2="1168.80" stroke="#111" stroke-width="2.7" />
<line x1="994.20" y1="1163.60" x2="994.20" y2="1174.00" stroke="#111" stroke-width="2.3" stroke-linecap="round"/>
<line x1="1209.50" y1="1163.60" x2="1209.50" y2="1174.00" stroke="#111" stroke-width="2.3" stroke-linecap="round"/>
<line x1="994.20" y1="1197.00" x2="1155.50" y2="1197.00" stroke="#111" stroke-width="2.7" />
<line x1="994.20" y1="1191.80" x2="994.20" y2="1202.20" stroke="#111" stroke-width="2.3" stroke-linecap="round"/>
<line x1="1155.50" y1="1191.80" x2="1155.50" y2="1202.20" stroke="#111" stroke-width="2.3" stroke-linecap="round"/>
<line x1="1155.50" y1="1224.20" x2="1209.50" y2="1224.20" stroke="#111" stroke-width="2.7" />
<line x1="1155.50" y1="1219.00" x2="1155.50" y2="1229.40" stroke="#111" stroke-width="2.3" stroke-linecap="round"/>
<line x1="1209.50" y1="1219.00" x2="1209.50" y2="1229.40" stroke="#111" stroke-width="2.3" stroke-linecap="round"/>
<line x1="994.20" y1="1256.60" x2="1101.90" y2="1256.60" stroke="#111" stroke-width="2.7" />
<line x1="994.20" y1="1251.40" x2="994.20" y2="1261.80" stroke="#111" stroke-width="2.3" stroke-linecap="round"/>
<line x1="1101.90" y1="1251.40" x2="1101.90" y2="1261.80" stroke="#111" stroke-width="2.3" stroke-linecap="round"/>
<line x1="1048.90" y1="1288.70" x2="1101.90" y2="1288.70" stroke="#111" stroke-width="2.7" />
<line x1="1048.90" y1="1283.50" x2="1048.90" y2="1293.90" stroke="#111" stroke-width="2.3" stroke-linecap="round"/>
<line x1="1101.90" y1="1283.50" x2="1101.90" y2="1293.90" stroke="#111" stroke-width="2.3" stroke-linecap="round"/>
<line x1="994.20" y1="1317.20" x2="1048.90" y2="1317.20" stroke="#111" stroke-width="2.7" />
<line x1="994.20" y1="1312.00" x2="994.20" y2="1322.40" stroke="#111" stroke-width="2.3" stroke-linecap="round"/>
<line x1="1048.90" y1="1312.00" x2="1048.90" y2="1322.40" stroke="#111" stroke-width="2.3" stroke-linecap="round"/>
<text x="1077.53" y="1161.20" font-size="20.00" textLength="46.64" lengthAdjust="spacingAndGlyphs" fill="#000" ><tspan font-weight="normal" font-style="italic">p</tspan><tspan font-weight="normal" font-style="normal">=ns</tspan></text>
<text x="1056.03" y="1189.40" font-size="20.00" textLength="46.64" lengthAdjust="spacingAndGlyphs" fill="#000" ><tspan font-weight="normal" font-style="italic">p</tspan><tspan font-weight="normal" font-style="normal">=ns</tspan></text>
<text x="1144.81" y="1217.50" font-size="20.00" textLength="73.99" lengthAdjust="spacingAndGlyphs" fill="#000" ><tspan font-weight="normal" font-style="italic">p</tspan><tspan font-weight="normal" font-style="normal">&lt;0.001</tspan></text>
<text x="1026.21" y="1249.70" font-size="20.00" textLength="44.93" lengthAdjust="spacingAndGlyphs" fill="#000" ><tspan font-weight="normal" font-style="italic">p</tspan><tspan font-weight="normal" font-style="normal">=ns</tspan></text>
<text x="1053.72" y="1282.10" font-size="20.00" textLength="45.63" lengthAdjust="spacingAndGlyphs" fill="#000" ><tspan font-weight="normal" font-style="italic">p</tspan><tspan font-weight="normal" font-style="normal">=ns</tspan></text>
<text x="1001.31" y="1310.30" font-size="20.00" textLength="45.03" lengthAdjust="spacingAndGlyphs" fill="#000" ><tspan font-weight="normal" font-style="italic">p</tspan><tspan font-weight="normal" font-style="normal">=ns</tspan></text>
<text x="975.28" y="1541.90" font-size="24.60" textLength="39.62" lengthAdjust="spacingAndGlyphs" fill="#000" stroke="#000" stroke-width="0.2"><tspan font-weight="bold" font-style="normal">0 Gy</tspan></text>
<text x="1029.29" y="1541.90" font-size="24.60" textLength="38.91" lengthAdjust="spacingAndGlyphs" fill="#000" stroke="#000" stroke-width="0.2"><tspan font-weight="bold" font-style="normal">0 Gy</tspan></text>
<text x="1076.35" y="1541.90" font-size="24.60" textLength="51.46" lengthAdjust="spacingAndGlyphs" fill="#000" stroke="#000" stroke-width="0.2"><tspan font-weight="bold" font-style="normal">20 Gy</tspan></text>
<text x="1135.88" y="1541.90" font-size="24.60" textLength="39.62" lengthAdjust="spacingAndGlyphs" fill="#000" stroke="#000" stroke-width="0.2"><tspan font-weight="bold" font-style="normal">0 Gy</tspan></text>
<text x="1186.35" y="1541.90" font-size="24.60" textLength="50.75" lengthAdjust="spacingAndGlyphs" fill="#000" stroke="#000" stroke-width="0.2"><tspan font-weight="bold" font-style="normal">20 Gy</tspan></text>
<text x="958.56" y="1571.70" font-size="22.50" textLength="61.45" lengthAdjust="spacingAndGlyphs" fill="#000" ><tspan font-weight="bold" font-style="normal">Day 7</tspan></text>
<text x="1040.67" y="1571.70" font-size="22.50" textLength="73.96" lengthAdjust="spacingAndGlyphs" fill="#000" ><tspan font-weight="bold" font-style="normal">Day 14</tspan></text>
<text x="1148.39" y="1571.70" font-size="22.50" textLength="72.63" lengthAdjust="spacingAndGlyphs" fill="#000" ><tspan font-weight="bold" font-style="normal">Day 21</tspan></text>
<text x="1072.69" y="1122.40" font-size="25.60" textLength="67.42" lengthAdjust="spacingAndGlyphs" fill="#000" ><tspan font-weight="bold" font-style="italic">SOX9</tspan></text>
<text transform="rotate(-90)" x="-1526.98" y="897.50" font-size="28.20" textLength="347.38" lengthAdjust="spacingAndGlyphs" fill="#000" ><tspan font-weight="bold" font-style="normal">mRNA expression relative to</tspan></text>
<text transform="rotate(-90)" x="-1168.63" y="897.50" font-size="28.20" textLength="63.58" lengthAdjust="spacingAndGlyphs" fill="#000" ><tspan font-weight="bold" font-style="italic">ACTB</tspan></text>
<text x="1249.52" y="1444.20" font-size="27.60" textLength="46.98" lengthAdjust="spacingAndGlyphs" fill="#000" ><tspan font-weight="normal" font-style="normal">Day 7</tspan></text>
<text x="1.92" y="33.00" font-size="41.50" textLength="31.22" lengthAdjust="spacingAndGlyphs" fill="#000" ><tspan font-weight="bold" font-style="normal">A</tspan></text>
<text x="-0.10" y="590.00" font-size="41.50" textLength="30.20" lengthAdjust="spacingAndGlyphs" fill="#000" ><tspan font-weight="bold" font-style="normal">B</tspan></text>
<text x="1.14" y="1075.50" font-size="41.50" textLength="29.16" lengthAdjust="spacingAndGlyphs" fill="#000" ><tspan font-weight="bold" font-style="normal">C</tspan></text>
<circle cx="108.6" cy="1621.8" r="5.30" fill="#30564f" stroke="#16262a" stroke-width="0.7"/>
<text x="115.14" y="1626.10" font-size="22.40" textLength="66.63" lengthAdjust="spacingAndGlyphs" fill="#000" ><tspan font-weight="normal" font-style="normal">MSC-7</tspan></text>
<rect x="103.3" y="1634.5" width="10.6" height="10.6" fill="#23254a" stroke="#0d0e22" stroke-width="0.7"/>
<text x="115.14" y="1645.30" font-size="22.40" textLength="66.88" lengthAdjust="spacingAndGlyphs" fill="#000" ><tspan font-weight="normal" font-style="normal">MSC-9</tspan></text>
<polygon points="108.6,1652.5 113.9,1662.3 103.3,1662.3" fill="#eea8ae" stroke="#6e5256" stroke-width="0.7"/>
<text x="115.12" y="1665.30" font-size="22.40" textLength="79.53" lengthAdjust="spacingAndGlyphs" fill="#000" ><tspan font-weight="normal" font-style="normal">MSC-10</tspan></text>
</svg>
</body></html>
